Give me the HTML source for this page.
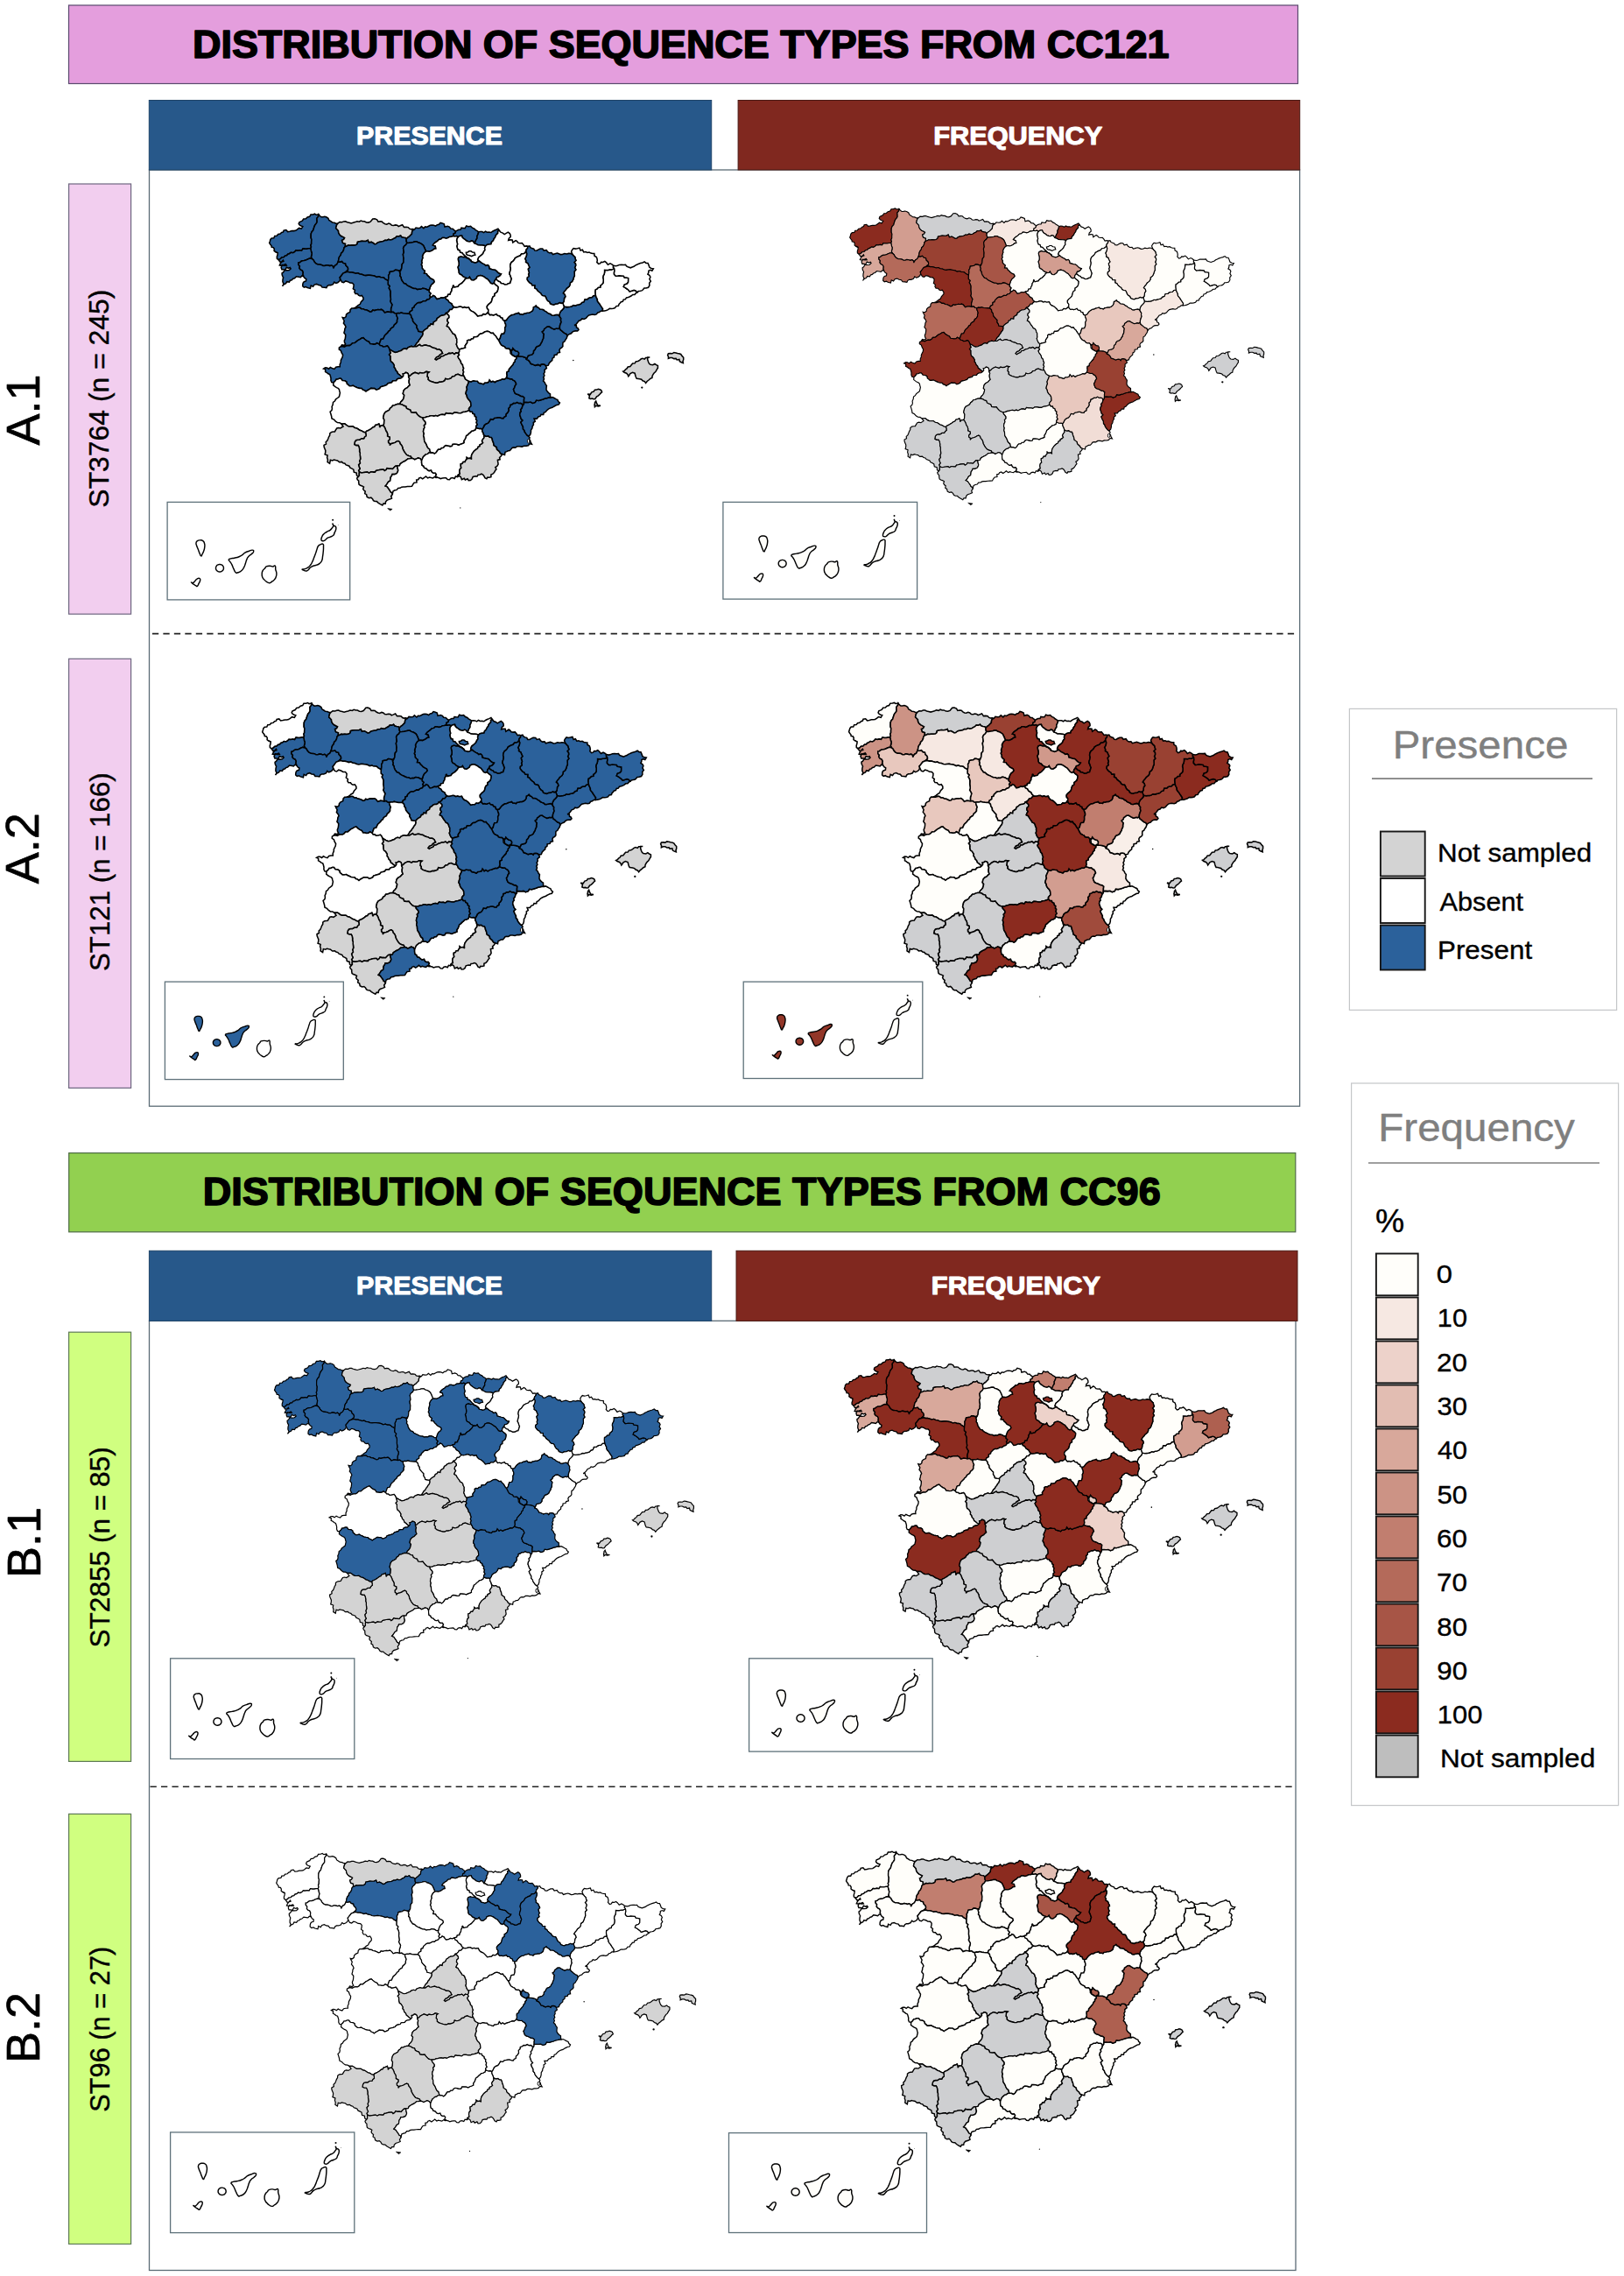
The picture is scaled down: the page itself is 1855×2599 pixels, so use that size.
<!DOCTYPE html>
<html lang="en"><head><meta charset="utf-8"><title>Distribution of sequence types</title>
<style>html,body{margin:0;padding:0;background:#fff}body{width:1855px;height:2599px;overflow:hidden}</style></head>
<body>
<svg width="1855" height="2599" viewBox="0 0 1855 2599" style="display:block">
<defs>
<path id="p-C" d="M318.2,296.6L316.4,295.3L316.3,293.1L317.0,291.0L317.2,288.7L314.8,287.7L313.1,286.4L313.3,284.3L312.3,282.6L310.3,282.3L310.0,280.6L308.9,279.3L307.7,277.5L308.4,275.4L308.9,273.4L310.3,271.9L312.8,271.8L313.8,269.5L316.2,269.3L317.7,267.5L320.0,267.1L321.7,265.5L323.5,264.9L324.1,263.1L326.8,262.6L328.6,264.6L331.1,264.2L333.5,263.6L335.6,263.6L337.6,263.3L339.4,262.1L341.6,260.4L344.3,261.1L345.8,258.6L344.0,258.0L342.4,257.2L341.2,255.6L341.9,253.7L343.6,252.9L345.3,252.2L346.7,250.1L349.3,249.8L351.2,248.0L353.7,247.3L355.0,245.0L357.6,244.9L359.5,244.2L361.1,245.3L364.0,244.9L363.6,247.2L361.9,249.2L362.1,251.7L362.1,253.8L361.1,255.4L359.8,256.9L359.1,258.6L358.4,260.7L357.8,262.9L356.2,264.6L355.3,266.8L355.2,269.1L355.2,271.5L355.9,273.7L355.7,276.0L355.7,278.3L354.9,280.1L355.5,282.0L354.7,283.8L352.5,283.8L350.4,284.3L348.3,284.3L346.1,283.9L344.6,286.2L342.4,285.7L340.3,286.2L338.0,285.9L336.5,287.7L334.6,288.7L332.3,288.3L330.5,289.7L328.8,290.2L327.5,291.8L325.6,292.1L324.0,293.8L321.7,294.1L320.2,295.7Z"/>
<path id="p-LU" d="M364.0,244.9L365.3,246.5L367.0,247.8L369.0,247.7L370.9,247.3L373.0,248.0L374.9,249.3L375.8,251.5L377.8,252.7L379.6,254.0L381.8,254.2L383.7,255.2L385.9,255.2L384.6,256.8L384.1,258.7L383.7,260.6L385.1,262.0L386.5,263.5L386.7,265.5L387.8,267.8L389.7,269.5L391.6,270.4L393.6,271.5L392.6,273.4L390.6,274.4L391.6,277.4L394.5,278.4L394.4,281.5L392.9,283.1L392.6,285.2L391.5,287.5L389.7,289.2L389.2,291.4L387.7,293.1L387.0,295.1L386.7,297.1L386.2,299.0L385.7,300.0L384.7,302.0L382.8,303.0L381.6,304.6L380.8,306.4L380.5,304.3L378.8,303.0L376.8,303.6L374.9,303.0L372.9,302.7L371.0,303.5L369.0,303.5L367.1,302.4L365.1,302.1L363.1,302.0L360.8,300.9L359.1,299.0L358.1,297.0L356.4,295.6L355.3,293.5L355.9,291.3L356.2,289.2L355.5,287.4L355.2,285.6L354.7,283.8L355.5,282.0L354.9,280.1L355.7,278.3L355.7,276.0L355.9,273.7L355.2,271.5L355.2,269.1L355.3,266.8L356.2,264.6L357.8,262.9L358.4,260.7L359.1,258.6L359.8,256.9L361.1,255.4L362.1,253.8L362.1,251.7L361.9,249.2L363.6,247.2Z"/>
<path id="p-PO" d="M318.2,296.6L320.2,295.7L321.7,294.1L324.0,293.8L325.6,292.1L327.5,291.8L328.8,290.2L330.5,289.7L332.3,288.3L334.6,288.7L336.5,287.7L338.0,285.9L340.3,286.2L342.4,285.7L344.6,286.2L346.1,283.9L348.3,284.3L350.4,284.3L352.5,283.8L354.7,283.8L355.2,285.6L355.5,287.4L356.2,289.2L355.9,291.3L355.3,293.5L356.4,295.6L353.8,295.1L351.5,296.0L349.3,297.1L347.5,297.6L345.5,297.7L343.8,298.5L342.6,299.7L340.9,300.0L340.9,302.3L342.4,304.0L342.0,306.2L343.3,307.9L345.3,308.9L346.3,310.9L346.0,313.3L346.8,315.6L344.9,315.0L343.3,316.7L341.4,316.3L338.5,315.8L336.5,317.8L334.7,318.3L333.3,319.7L331.5,320.2L330.4,322.1L327.7,321.7L326.6,323.7L324.2,324.8L322.5,326.8L324.0,324.4L322.9,321.7L323.0,319.2L323.6,316.8L322.8,315.3L322.2,313.8L322.1,312.0L323.6,310.9L325.1,308.5L327.9,308.8L330.3,308.5L332.1,306.8L331.3,305.5L329.5,306.3L327.3,305.3L325.9,308.1L323.9,307.7L321.9,307.7L321.1,305.4L322.3,302.5L324.9,303.2L327.2,303.0L326.4,301.8L324.1,302.6L321.8,303.5L319.3,303.0L320.3,300.8L321.7,298.9L323.9,298.2L323.4,297.1L321.9,298.7L319.7,299.0Z"/>
<path id="p-OU" d="M356.4,295.6L358.1,297.0L359.1,299.0L360.8,300.9L363.1,302.0L365.1,302.1L367.1,302.4L369.0,303.5L371.0,303.5L372.9,302.7L374.9,303.0L376.8,303.6L378.8,303.0L380.5,304.3L380.8,306.4L381.6,304.6L382.8,303.0L384.7,302.0L385.7,300.0L386.2,299.0L388.5,299.1L390.6,298.5L392.2,300.4L394.6,301.0L395.2,303.4L397.0,305.0L397.6,306.6L397.5,308.4L396.0,309.6L394.6,310.9L392.2,311.8L390.6,313.8L389.5,315.4L388.2,316.8L388.7,318.7L387.8,321.1L385.7,322.7L383.6,323.5L381.8,322.2L380.4,324.6L377.8,325.6L375.6,325.6L373.9,326.6L372.9,328.6L370.5,328.2L368.0,328.1L366.5,326.0L364.0,325.6L361.7,324.4L359.1,325.1L357.6,327.3L355.2,326.1L354.4,329.4L351.2,328.6L349.4,327.5L347.3,328.1L345.7,326.7L345.8,324.7L346.2,323.0L347.3,321.7L349.5,321.0L349.8,318.7L347.9,317.5L346.8,315.6L346.0,313.3L346.3,310.9L345.3,308.9L343.3,307.9L342.0,306.2L342.4,304.0L340.9,302.3L340.9,300.0L342.6,299.7L343.8,298.5L345.5,297.7L347.5,297.6L349.3,297.1L351.5,296.0L353.8,295.1Z"/>
<path id="p-O" d="M385.9,255.2L388.0,253.5L390.6,253.7L392.6,252.9L394.6,252.8L396.6,253.7L398.8,254.3L401.1,254.9L403.4,254.2L405.7,253.6L407.9,252.7L410.3,253.2L412.2,252.0L414.3,252.7L416.3,252.7L418.5,253.9L420.8,254.1L423.2,253.2L424.5,251.6L425.8,250.0L428.1,249.8L430.6,250.9L432.0,253.2L434.2,252.9L436.2,253.1L437.9,254.7L439.8,255.7L441.8,256.1L443.9,255.1L445.8,255.7L447.5,257.3L449.5,257.5L451.7,256.9L453.7,257.2L455.2,258.5L457.0,257.8L459.6,256.7L461.5,259.4L463.9,259.2L466.3,259.6L467.7,261.2L469.4,261.8L471.6,261.5L473.3,262.2L471.3,263.1L470.6,265.0L470.4,267.2L468.9,268.6L467.4,270.2L465.6,271.4L464.1,273.0L462.8,271.5L460.8,271.2L458.8,270.7L457.6,269.0L455.7,270.0L453.3,269.8L451.7,271.5L449.8,272.4L448.0,273.6L445.8,273.9L443.8,273.4L441.9,274.5L439.9,274.4L437.7,275.6L435.4,276.0L433.0,276.4L431.3,277.1L429.9,278.4L428.1,278.8L426.2,277.5L424.1,276.4L421.3,277.1L420.2,274.4L418.0,275.4L415.7,275.5L413.3,275.4L410.8,275.8L408.4,276.4L408.1,278.5L406.4,279.8L404.1,280.1L401.8,280.0L399.5,280.3L397.7,280.1L396.1,281.0L394.4,281.5L394.5,278.4L391.6,277.4L390.6,274.4L392.6,273.4L393.6,271.5L391.6,270.4L389.7,269.5L387.8,267.8L386.7,265.5L386.5,263.5L385.1,262.0L383.7,260.6L384.1,258.7L384.6,256.8Z"/>
<path id="p-LE" d="M394.4,281.5L396.1,281.0L397.7,280.1L399.5,280.3L401.8,280.0L404.1,280.1L406.4,279.8L408.1,278.5L408.4,276.4L410.8,275.8L413.3,275.4L415.7,275.5L418.0,275.4L420.2,274.4L421.3,277.1L424.1,276.4L426.2,277.5L428.1,278.8L429.9,278.4L431.3,277.1L433.0,276.4L435.4,276.0L437.7,275.6L439.9,274.4L441.9,274.5L443.8,273.4L445.8,273.9L448.0,273.6L449.8,272.4L451.7,271.5L453.3,269.8L455.7,270.0L457.6,269.0L458.8,270.7L460.8,271.2L462.8,271.5L464.1,273.0L464.2,275.3L464.9,277.4L463.6,279.6L461.6,281.2L460.6,283.4L461.0,285.8L461.3,288.2L460.4,290.4L460.7,292.7L461.1,295.0L460.9,297.3L460.9,299.7L459.3,301.6L459.0,304.0L458.8,306.4L457.8,308.6L455.7,309.1L453.7,308.4L451.5,308.2L449.8,309.6L447.8,309.9L445.3,310.4L444.8,312.8L443.7,314.7L443.9,316.7L443.7,318.7L443.3,320.7L441.7,319.6L439.9,318.7L438.6,317.2L436.9,316.8L435.0,316.8L432.8,315.8L430.3,316.4L428.1,315.3L426.1,314.8L424.2,314.5L422.2,314.2L420.2,314.3L417.8,314.6L415.5,314.3L413.3,313.3L411.0,313.0L408.8,311.8L406.4,312.3L404.2,311.5L401.9,310.9L399.5,310.9L397.0,310.2L394.6,310.9L396.0,309.6L397.5,308.4L397.6,306.6L397.0,305.0L395.2,303.4L394.6,301.0L392.2,300.4L390.6,298.5L388.5,299.1L386.2,299.0L386.7,297.1L387.0,295.1L387.7,293.1L389.2,291.4L389.7,289.2L391.5,287.5L392.6,285.2L392.9,283.1Z"/>
<path id="p-S" d="M473.3,262.2L475.0,260.1L477.5,260.5L479.7,260.2L481.4,258.6L483.9,260.7L485.6,258.9L487.7,259.2L489.6,258.2L491.4,257.3L493.4,257.1L495.5,257.3L497.6,258.2L499.4,256.7L501.4,256.3L503.1,254.3L505.2,254.9L507.3,255.8L508.0,259.1L511.2,258.2L513.3,259.1L514.8,261.0L517.1,261.2L518.8,262.8L520.6,264.1L520.0,266.2L518.1,267.1L517.6,269.6L515.7,270.3L513.5,270.4L511.7,271.5L509.6,272.2L507.5,271.6L505.3,271.5L503.7,273.1L501.4,273.5L499.8,275.2L497.8,276.5L496.0,277.9L494.5,279.9L497.2,280.9L497.9,283.8L495.9,284.2L494.3,285.6L492.5,286.5L490.5,287.3L488.5,287.0L486.4,287.1L485.6,284.7L484.6,282.4L483.4,280.0L481.2,278.4L479.6,277.6L477.7,277.1L476.3,276.0L474.1,275.9L472.0,276.5L469.9,276.9L467.4,277.3L464.9,277.4L464.2,275.3L464.1,273.0L465.6,271.4L467.4,270.2L468.9,268.6L470.4,267.2L470.6,265.0L471.3,263.1Z"/>
<path id="p-BI" d="M520.6,264.1L522.2,263.1L523.9,262.3L526.1,262.3L527.0,260.2L529.1,260.5L531.1,260.6L532.7,257.9L534.9,258.7L537.6,258.3L539.5,260.2L541.8,261.2L543.2,262.6L545.0,263.6L546.7,264.8L546.1,267.3L544.9,269.6L545.0,272.0L543.7,274.0L542.9,276.0L541.8,277.9L540.3,275.5L538.5,275.0L536.8,276.0L534.8,275.7L532.9,275.0L531.3,273.6L529.5,272.5L528.1,271.0L527.5,269.1L525.1,269.4L523.1,270.7L521.4,269.5L519.4,270.0L517.6,269.6L518.1,267.1L520.0,266.2Z"/>
<path id="p-SS" d="M546.7,264.8L548.7,264.5L550.7,264.6L552.6,265.6L554.5,264.2L556.5,265.2L558.5,265.1L560.9,265.5L562.6,264.2L564.4,263.2L566.7,262.3L568.9,261.2L570.3,263.2L568.6,264.1L568.7,266.3L567.4,267.6L566.2,269.1L565.7,271.0L564.4,272.5L563.4,274.8L561.5,276.5L560.9,278.8L558.5,278.9L556.3,279.4L554.6,280.9L552.7,280.3L550.7,280.0L548.7,279.9L546.0,279.8L543.7,278.4L541.8,277.9L542.9,276.0L543.7,274.0L545.0,272.0L544.9,269.6L546.1,267.3Z"/>
<path id="p-VI" d="M523.1,270.7L525.1,269.4L527.5,269.1L528.1,271.0L529.5,272.5L531.3,273.6L532.9,275.0L534.8,275.7L536.8,276.0L538.5,275.0L540.3,275.5L541.8,277.9L543.7,278.4L546.0,279.8L548.7,279.9L550.7,280.0L552.7,280.3L554.6,280.9L553.6,283.3L554.0,285.5L552.6,287.3L551.7,289.5L550.1,291.2L548.4,292.5L546.7,294.0L545.7,296.7L547.7,298.3L546.0,298.5L544.7,299.6L542.7,300.2L540.8,299.5L538.8,299.1L538.0,297.3L536.4,296.3L534.9,295.2L533.2,294.2L531.8,292.8L530.3,291.6L529.0,290.2L527.8,288.7L525.6,288.2L525.1,285.9L523.1,285.3L522.3,283.2L521.8,281.1L522.6,278.8L522.0,276.6L521.6,274.5L521.9,272.5Z"/>
<path id="p-NA" d="M570.3,263.2L571.9,265.2L574.3,266.1L576.2,267.6L578.2,266.4L580.3,265.2L582.2,266.6L583.1,268.5L583.2,270.5L581.3,272.1L580.7,274.5L582.9,273.9L585.1,274.0L585.8,277.0L589.1,274.7L590.7,275.7L592.0,277.4L594.1,277.8L596.3,277.6L597.9,279.4L599.1,281.3L601.2,280.9L602.9,281.4L602.6,283.5L601.1,285.2L600.7,287.3L599.6,288.8L597.9,289.8L595.6,290.0L594.1,292.0L592.0,292.7L590.0,293.7L588.3,294.8L587.4,296.6L586.1,298.1L584.1,299.6L583.1,301.6L582.7,304.0L583.3,306.4L583.0,308.7L582.2,310.9L582.0,313.0L583.0,314.7L583.5,316.6L584.3,318.3L583.5,320.8L582.7,323.3L580.8,323.7L579.2,324.7L576.6,325.0L574.3,323.7L572.3,323.5L571.2,321.8L569.4,321.3L567.9,320.0L566.4,318.8L567.4,316.4L569.6,315.9L571.3,314.4L572.3,312.9L570.1,312.3L568.4,310.9L567.0,309.4L565.5,308.3L563.4,308.0L561.3,307.4L559.0,306.8L558.5,304.0L557.1,302.7L554.8,303.3L553.3,301.9L551.6,301.1L549.5,299.9L547.7,298.3L545.7,296.7L546.7,294.0L548.4,292.5L550.1,291.2L551.7,289.5L552.6,287.3L554.0,285.5L553.6,283.3L554.6,280.9L556.3,279.4L558.5,278.9L560.9,278.8L561.5,276.5L563.4,274.8L564.4,272.5L565.7,271.0L566.2,269.1L567.4,267.6L568.7,266.3L568.6,264.1Z"/>
<path id="p-LO" d="M538.8,299.1L540.8,299.5L542.7,300.2L544.7,299.6L546.0,298.5L547.7,298.3L549.5,299.9L551.6,301.1L553.3,301.9L554.8,303.3L557.1,302.7L558.5,304.0L559.0,306.8L561.3,307.4L563.4,308.0L565.5,308.3L567.0,309.4L568.4,310.9L570.1,312.3L572.3,312.9L571.3,314.4L569.6,315.9L567.4,316.4L566.4,318.8L564.9,320.8L564.4,323.3L562.5,324.2L560.5,323.3L559.4,321.7L558.2,320.3L557.0,318.8L555.5,318.0L554.0,316.9L552.6,315.9L550.7,315.0L548.8,314.5L546.7,314.9L545.0,315.8L544.3,317.7L542.8,318.8L541.0,320.0L538.8,319.8L537.3,318.3L536.4,316.4L535.2,317.7L533.4,317.8L531.1,316.9L529.0,315.9L527.3,314.0L525.0,312.9L524.0,311.1L524.0,309.0L523.5,307.0L522.9,305.0L524.0,303.1L524.2,301.1L524.0,299.1L523.5,297.3L523.2,295.5L524.0,293.7L526.5,292.7L529.0,293.5L531.3,293.2L533.3,294.5L535.4,295.2L537.4,296.9Z"/>
<path id="p-BU" d="M486.4,287.1L488.5,287.0L490.5,287.3L492.5,286.5L494.3,285.6L495.9,284.2L497.9,283.8L497.2,280.9L494.5,279.9L496.0,277.9L497.8,276.5L499.8,275.2L501.4,273.5L503.7,273.1L505.3,271.5L507.5,271.6L509.6,272.2L511.7,271.5L513.5,270.4L515.7,270.3L517.6,269.6L519.4,270.0L521.4,269.5L523.1,270.7L521.9,272.5L521.6,274.5L522.0,276.6L522.6,278.8L521.8,281.1L522.3,283.2L523.1,285.3L525.1,285.9L525.6,288.2L527.8,288.7L529.0,290.2L530.3,291.6L531.8,292.8L533.2,294.2L534.9,295.2L536.4,296.3L538.0,297.3L538.8,299.1L537.4,296.9L535.4,295.2L533.3,294.5L531.3,293.2L529.0,293.5L526.5,292.7L524.0,293.7L523.2,295.5L523.5,297.3L524.0,299.1L524.2,301.1L524.0,303.1L522.9,305.0L523.5,307.0L524.0,309.0L524.0,311.1L525.0,312.9L527.3,314.0L529.0,315.9L531.1,316.9L533.4,317.8L531.4,318.6L530.4,320.4L529.0,321.8L527.6,323.3L525.8,324.3L524.2,325.5L523.1,327.2L521.1,327.6L519.1,328.2L517.6,325.7L517.4,328.0L516.1,329.9L515.9,332.2L514.7,334.1L514.2,336.1L511.7,336.5L511.2,338.5L508.5,339.4L506.3,340.3L504.0,339.9L501.7,341.1L499.1,341.6L497.8,340.0L496.6,338.3L494.7,337.4L493.5,338.9L491.7,339.4L490.7,337.4L492.0,335.1L490.1,333.3L490.3,331.1L491.0,328.7L491.8,326.6L493.0,324.7L494.7,323.5L496.0,321.8L495.4,319.8L493.5,318.8L491.4,317.7L489.9,315.9L488.1,314.4L487.3,312.6L484.4,312.2L485.2,309.3L483.6,308.0L482.2,306.3L482.2,304.0L481.2,302.1L482.0,300.2L481.6,298.1L482.2,296.2L482.8,294.4L482.5,292.5L483.2,290.7L484.5,288.6Z"/>
<path id="p-P" d="M464.9,277.4L467.4,277.3L469.9,276.9L472.0,276.5L474.1,275.9L476.3,276.0L477.7,277.1L479.6,277.6L481.2,278.4L483.4,280.0L484.6,282.4L485.6,284.7L486.4,287.1L484.5,288.6L483.2,290.7L482.5,292.5L482.8,294.4L482.2,296.2L481.6,298.1L482.0,300.2L481.2,302.1L482.2,304.0L482.2,306.3L483.6,308.0L485.2,309.3L484.4,312.2L487.3,312.6L488.1,314.4L489.9,315.9L491.4,317.7L493.5,318.8L495.4,319.8L496.0,321.8L494.7,323.5L493.0,324.7L491.8,326.6L491.0,328.7L490.3,331.1L488.3,331.2L486.5,330.0L484.6,329.4L482.7,329.2L480.8,330.3L478.7,330.2L476.7,330.6L474.9,329.6L472.7,329.5L470.8,328.7L468.9,327.7L466.8,326.8L464.9,325.7L463.6,324.2L461.4,323.6L460.2,321.9L459.0,320.3L458.3,318.5L458.0,316.6L456.7,315.0L457.1,312.9L456.4,310.6L457.8,308.6L458.8,306.4L459.0,304.0L459.3,301.6L460.9,299.7L460.9,297.3L461.1,295.0L460.7,292.7L460.4,290.4L461.3,288.2L461.0,285.8L460.6,283.4L461.6,281.2L463.6,279.6Z"/>
<path id="p-VA" d="M443.3,320.7L443.7,318.7L443.9,316.7L443.7,314.7L444.8,312.8L445.3,310.4L447.8,309.9L449.8,309.6L451.5,308.2L453.7,308.4L455.7,309.1L457.8,308.6L456.4,310.6L457.1,312.9L456.7,315.0L458.0,316.6L458.3,318.5L459.0,320.3L460.2,321.9L461.4,323.6L463.6,324.2L464.9,325.7L466.8,326.8L468.9,327.7L470.8,328.7L472.7,329.5L474.9,329.6L476.7,330.6L478.7,330.2L480.8,330.3L482.7,329.2L484.6,329.4L486.5,330.0L488.3,331.2L490.3,331.1L490.1,333.3L492.0,335.1L490.7,337.4L491.7,339.4L490.3,341.5L487.8,342.3L486.1,343.8L483.7,343.7L481.9,344.8L480.2,345.6L478.1,345.5L476.4,346.3L475.0,347.7L473.6,349.0L473.0,351.0L471.0,351.7L470.9,354.4L468.4,355.8L467.6,358.1L465.4,358.2L463.2,358.1L460.6,357.8L458.2,357.1L456.5,357.7L454.6,357.5L452.8,358.1L450.8,357.8L449.1,356.3L446.9,356.8L446.5,354.4L446.6,352.0L447.4,349.7L447.8,347.7L446.7,345.8L445.7,343.9L446.4,341.8L446.1,339.5L445.8,337.2L445.9,334.9L445.9,332.8L445.3,330.9L444.1,329.0L445.1,326.7L443.2,324.9L443.2,322.8Z"/>
<path id="p-ZA" d="M394.6,310.9L397.0,310.2L399.5,310.9L401.9,310.9L404.2,311.5L406.4,312.3L408.8,311.8L411.0,313.0L413.3,313.3L415.5,314.3L417.8,314.6L420.2,314.3L422.2,314.2L424.2,314.5L426.1,314.8L428.1,315.3L430.3,316.4L432.8,315.8L435.0,316.8L436.9,316.8L438.6,317.2L439.9,318.7L441.7,319.6L443.3,320.7L443.2,322.8L443.2,324.9L445.1,326.7L444.1,329.0L445.3,330.9L445.9,332.8L445.9,334.9L445.8,337.2L446.1,339.5L446.4,341.8L445.7,343.9L446.7,345.8L447.8,347.7L447.4,349.7L446.6,352.0L446.5,354.4L446.9,356.8L444.7,356.2L442.5,356.1L439.5,357.1L437.5,354.6L435.7,353.4L433.6,353.8L431.6,353.6L429.7,354.0L427.7,354.6L425.7,354.1L424.6,355.7L422.8,356.1L420.8,355.0L418.8,354.1L416.7,353.8L414.9,352.7L412.8,352.7L411.0,351.3L409.0,351.2L406.6,352.0L404.0,351.9L405.9,351.1L407.5,350.0L409.0,348.7L411.3,347.3L412.4,344.8L413.7,343.4L415.0,342.0L414.9,339.9L413.3,337.5L411.2,338.0L409.6,337.2L408.4,335.5L406.1,335.4L404.9,333.5L405.4,331.4L403.3,329.7L403.9,327.6L404.1,325.1L402.5,323.2L399.8,323.1L397.5,321.7L394.8,320.9L392.6,322.7L390.5,322.1L389.6,320.5L388.7,318.7L388.2,316.8L389.5,315.4L390.6,313.8L392.2,311.8Z"/>
<path id="p-SA" d="M404.0,351.9L406.6,352.0L409.0,351.2L411.0,351.3L412.8,352.7L414.9,352.7L416.7,353.8L418.8,354.1L420.8,355.0L422.8,356.1L424.6,355.7L425.7,354.1L427.7,354.6L429.7,354.0L431.6,353.6L433.6,353.8L435.7,353.4L437.5,354.6L439.5,357.1L442.5,356.1L444.7,356.2L446.9,356.8L449.1,356.3L450.8,357.8L452.8,358.1L452.9,360.0L453.6,361.7L454.3,363.5L453.6,365.4L453.6,367.7L452.3,369.4L450.4,371.0L449.4,373.3L447.6,374.3L446.2,375.4L445.4,377.3L443.8,378.3L442.8,379.9L441.5,381.2L439.6,382.9L438.5,385.2L437.7,387.0L435.4,387.3L434.6,389.1L433.9,391.1L433.1,393.1L430.6,391.6L428.9,392.9L426.7,393.1L424.7,392.8L422.8,392.6L421.3,390.2L418.8,389.1L416.7,387.5L414.9,385.7L412.8,386.3L410.9,387.6L408.8,388.6L407.0,390.1L405.2,391.6L402.6,391.7L401.1,393.5L399.3,394.6L397.1,394.5L395.2,395.0L393.3,396.1L391.2,395.4L389.3,395.8L390.5,393.8L393.0,394.3L394.7,393.1L393.6,391.2L393.3,389.2L394.2,387.1L394.6,384.7L394.7,382.2L392.9,380.0L393.7,377.3L393.9,375.3L395.0,373.4L394.2,371.4L392.4,369.2L393.2,366.5L392.1,364.5L391.2,362.5L393.4,363.0L395.2,361.5L395.5,359.2L397.1,357.6L399.7,356.4L400.1,353.6L401.7,351.9Z"/>
<path id="p-AV" d="M452.8,358.1L454.6,357.5L456.5,357.7L458.2,357.1L460.6,357.8L463.2,358.1L465.4,358.2L467.6,358.1L469.5,359.9L470.0,362.5L471.4,364.3L471.6,366.7L473.0,368.4L474.5,370.1L476.1,371.8L476.0,374.3L477.3,376.1L477.9,378.3L480.4,378.7L482.9,379.0L483.1,381.3L482.4,383.4L480.9,385.2L480.0,386.9L478.7,388.3L477.9,390.1L476.1,391.7L474.9,393.8L473.5,395.8L471.7,396.0L469.9,395.4L468.1,396.0L466.1,396.8L464.6,398.6L462.2,398.0L460.1,398.8L458.4,400.2L456.3,400.9L453.9,402.0L451.3,402.4L449.3,401.5L447.4,400.4L444.9,399.0L444.0,396.8L442.5,395.0L440.0,395.7L437.5,396.0L436.2,394.8L434.2,394.6L433.1,393.1L433.9,391.1L434.6,389.1L435.4,387.3L437.7,387.0L438.5,385.2L439.6,382.9L441.5,381.2L442.8,379.9L443.8,378.3L445.4,377.3L446.2,375.4L447.6,374.3L449.4,373.3L450.4,371.0L452.3,369.4L453.6,367.7L453.6,365.4L454.3,363.5L453.6,361.7L452.9,360.0Z"/>
<path id="p-SG" d="M467.6,358.1L468.4,355.8L470.9,354.4L471.0,351.7L473.0,351.0L473.6,349.0L475.0,347.7L476.4,346.3L478.1,345.5L480.2,345.6L481.9,344.8L483.7,343.7L486.1,343.8L487.8,342.3L490.3,341.5L491.7,339.4L493.5,338.9L494.7,337.4L496.6,338.3L497.8,340.0L499.1,341.6L501.7,341.1L504.0,339.9L506.3,340.3L508.5,339.4L509.5,341.5L511.8,342.7L512.9,344.8L514.5,345.8L516.1,346.8L516.8,348.7L518.8,350.7L517.3,351.8L516.0,353.4L513.9,353.6L512.8,355.4L511.4,356.8L509.5,357.6L508.2,359.4L506.4,360.1L504.3,360.3L502.5,361.1L501.1,362.5L499.3,363.5L498.6,365.8L496.9,366.8L495.2,367.9L494.8,370.5L492.1,369.9L491.1,371.8L489.3,372.4L488.3,374.7L486.2,375.8L484.4,377.2L482.9,379.0L480.4,378.7L477.9,378.3L477.3,376.1L476.0,374.3L476.1,371.8L474.5,370.1L473.0,368.4L471.6,366.7L471.4,364.3L470.0,362.5L469.5,359.9Z"/>
<path id="p-SO" d="M508.5,339.4L511.2,338.5L511.7,336.5L514.2,336.1L514.7,334.1L515.9,332.2L516.1,329.9L517.4,328.0L517.6,325.7L519.1,328.2L521.1,327.6L523.1,327.2L524.2,325.5L525.8,324.3L527.6,323.3L529.0,321.8L530.4,320.4L531.4,318.6L533.4,317.8L535.2,317.7L536.4,316.4L537.3,318.3L538.8,319.8L541.0,320.0L542.8,318.8L544.3,317.7L545.0,315.8L546.7,314.9L548.8,314.5L550.7,315.0L552.6,315.9L554.0,316.9L555.5,318.0L557.0,318.8L558.2,320.3L559.4,321.7L560.5,323.3L562.5,324.2L564.4,323.3L566.2,325.1L567.9,326.3L569.2,327.8L569.0,330.1L568.1,333.0L566.6,334.3L565.0,335.4L565.0,337.9L563.2,338.9L562.3,340.8L561.9,342.8L561.2,344.8L559.5,346.4L557.7,347.9L556.3,349.7L556.4,351.9L557.9,353.8L557.7,356.1L556.3,357.9L554.3,359.1L552.1,358.7L550.4,360.4L548.4,360.5L545.6,361.1L544.1,359.3L542.5,357.6L540.6,356.1L538.3,355.2L536.6,353.6L535.4,351.0L532.7,351.5L530.6,350.7L528.6,351.4L526.7,350.2L524.7,350.2L522.8,350.7L520.8,351.1L518.8,350.7L516.8,348.7L516.1,346.8L514.5,345.8L512.9,344.8L511.8,342.7L509.5,341.5Z"/>
<path id="p-M" d="M482.9,379.0L484.4,377.2L486.2,375.8L488.3,374.7L489.3,372.4L491.1,371.8L492.1,369.9L494.8,370.5L495.2,367.9L496.9,366.8L498.6,365.8L499.3,363.5L501.1,362.5L502.5,361.1L504.3,360.3L506.4,360.1L508.2,359.4L509.5,357.6L511.4,358.8L512.9,360.5L513.0,362.6L511.2,364.3L510.9,366.3L512.3,368.6L511.1,370.4L510.4,372.4L512.6,373.5L513.7,375.5L515.0,377.4L516.4,379.3L517.3,380.9L519.2,381.7L520.3,383.2L520.8,385.2L521.8,387.1L521.7,389.1L521.9,391.0L521.3,393.1L522.1,395.2L523.0,397.3L524.7,399.0L524.7,401.3L523.7,403.4L520.8,402.9L519.0,404.5L516.8,402.8L514.9,403.6L512.8,403.4L510.9,404.5L509.0,404.9L507.4,405.8L505.9,406.8L504.0,406.8L502.7,408.9L500.3,409.8L498.3,411.0L496.9,410.0L498.5,407.8L501.1,406.8L502.2,405.2L503.8,404.2L505.5,403.4L504.7,402.0L504.0,400.4L501.8,399.0L499.1,399.0L497.3,397.8L495.2,397.2L493.2,396.5L491.1,395.2L488.6,394.8L486.3,394.0L484.3,394.3L482.4,395.0L480.6,394.8L479.4,393.5L477.5,394.5L475.7,395.8L473.5,395.8L474.9,393.8L476.1,391.7L477.9,390.1L478.7,388.3L480.0,386.9L480.9,385.2L482.4,383.4L483.1,381.3Z"/>
<path id="p-GU" d="M518.8,350.7L520.8,351.1L522.8,350.7L524.7,350.2L526.7,350.2L528.6,351.4L530.6,350.7L532.7,351.5L535.4,351.0L536.6,353.6L538.3,355.2L540.6,356.1L542.5,357.6L544.1,359.3L545.6,361.1L548.4,360.5L550.4,360.4L552.1,358.7L554.3,359.1L556.3,357.9L557.7,356.1L558.2,358.1L559.7,359.6L561.6,359.3L563.5,359.9L565.3,359.3L567.1,358.6L568.4,360.3L570.8,360.7L572.0,362.5L574.0,363.1L574.5,365.3L576.3,366.1L576.7,368.2L577.6,370.3L577.7,372.5L576.7,374.4L576.8,376.4L576.7,378.4L575.7,381.1L572.8,381.4L571.8,384.3L571.2,386.7L569.4,388.3L568.1,386.8L567.1,385.2L566.0,383.4L564.3,382.0L563.2,380.2L560.9,380.4L559.2,379.1L557.2,378.3L555.2,378.4L553.3,379.3L551.8,380.3L550.2,381.1L548.4,381.2L546.9,382.6L545.6,384.2L543.4,384.7L541.4,384.7L540.5,386.9L538.5,387.1L537.2,388.5L535.2,388.2L533.6,389.1L533.8,391.2L532.5,393.0L531.3,394.8L531.6,397.0L529.3,397.7L527.0,398.2L524.7,399.0L523.0,397.3L522.1,395.2L521.3,393.1L521.9,391.0L521.7,389.1L521.8,387.1L520.8,385.2L520.3,383.2L519.2,381.7L517.3,380.9L516.4,379.3L515.0,377.4L513.7,375.5L512.6,373.5L510.4,372.4L511.1,370.4L512.3,368.6L510.9,366.3L511.2,364.3L513.0,362.6L512.9,360.5L511.4,358.8L509.5,357.6L511.4,356.8L512.8,355.4L513.9,353.6L516.0,353.4L517.3,351.8Z"/>
<path id="p-TO" d="M444.9,399.0L447.4,400.4L449.3,401.5L451.3,402.4L453.9,402.0L456.3,400.9L458.4,400.2L460.1,398.8L462.2,398.0L464.6,398.6L466.1,396.8L468.1,396.0L469.9,395.4L471.7,396.0L473.5,395.8L475.7,395.8L477.5,394.5L479.4,393.5L480.6,394.8L482.4,395.0L484.3,394.3L486.3,394.0L488.6,394.8L491.1,395.2L493.2,396.5L495.2,397.2L497.3,397.8L499.1,399.0L501.8,399.0L504.0,400.4L504.7,402.0L505.5,403.4L503.8,404.2L502.2,405.2L501.1,406.8L498.5,407.8L496.9,410.0L498.3,411.0L500.3,409.8L502.7,408.9L504.0,406.8L505.9,406.8L507.4,405.8L509.0,404.9L510.9,404.5L512.8,403.4L514.9,403.6L516.8,402.8L519.0,404.5L520.8,402.9L523.7,403.4L524.6,405.2L523.1,407.0L523.7,408.8L525.1,410.6L526.3,412.5L526.7,414.7L528.4,416.4L528.8,418.6L529.7,420.6L528.8,422.7L529.7,424.8L528.8,426.9L529.7,429.0L527.6,429.0L525.6,428.4L523.2,427.3L520.7,427.9L519.1,429.5L516.7,429.9L515.2,431.9L512.8,432.8L511.0,433.0L508.8,432.4L507.9,434.8L505.9,435.7L503.7,436.3L501.7,436.2L499.8,437.2L497.8,437.2L495.3,436.5L492.9,435.8L490.7,434.9L488.9,433.3L489.2,431.3L487.9,429.9L488.2,428.0L488.3,426.2L489.9,424.9L486.9,424.4L484.6,425.7L482.0,425.9L479.8,425.5L478.1,426.9L476.2,426.0L474.1,425.4L472.1,426.3L470.2,427.4L468.6,429.0L466.7,430.3L466.6,428.6L466.3,426.9L465.0,425.8L463.3,425.4L462.0,426.5L460.3,426.9L460.8,429.0L459.6,430.6L457.7,429.4L456.1,427.8L454.3,426.6L453.6,424.4L451.9,422.8L451.3,420.6L450.0,419.3L450.3,417.3L449.4,415.7L448.3,414.0L446.5,412.8L445.9,410.8L445.8,408.7L445.8,406.6L444.4,404.9L446.1,403.0L445.4,401.0Z"/>
<path id="p-CC" d="M389.3,395.8L391.2,395.4L393.3,396.1L395.2,395.0L397.1,394.5L399.3,394.6L401.1,393.5L402.6,391.7L405.2,391.6L407.0,390.1L408.8,388.6L410.9,387.6L412.8,386.3L414.9,385.7L416.7,387.5L418.8,389.1L421.3,390.2L422.8,392.6L424.7,392.8L426.7,393.1L428.9,392.9L430.6,391.6L433.1,393.1L434.2,394.6L436.2,394.8L437.5,396.0L440.0,395.7L442.5,395.0L444.0,396.8L444.9,399.0L445.4,401.0L446.1,403.0L444.4,404.9L445.8,406.6L445.8,408.7L445.9,410.8L446.5,412.8L448.3,414.0L449.4,415.7L450.3,417.3L450.0,419.3L451.3,420.6L451.9,422.8L453.6,424.4L454.3,426.6L456.1,427.8L457.7,429.4L459.6,430.6L457.7,432.0L455.4,432.3L453.7,433.0L452.5,434.7L450.5,434.8L448.6,435.0L447.4,436.8L445.6,437.2L443.2,437.8L441.6,439.7L439.2,440.5L436.7,441.2L434.7,441.8L433.7,443.6L431.8,444.5L429.8,445.2L427.8,443.6L425.8,443.6L423.7,443.4L421.9,444.6L419.8,445.7L418.0,447.1L416.4,445.8L414.4,445.2L413.1,443.6L411.0,443.4L409.0,443.1L407.1,442.2L405.2,441.4L403.4,440.3L401.2,440.7L399.2,440.7L397.8,439.4L396.3,438.2L395.8,436.0L393.8,434.8L391.1,434.5L389.4,432.3L387.5,432.3L385.8,433.1L384.0,433.3L382.7,435.3L380.9,436.9L378.8,436.5L377.9,434.4L378.0,431.9L377.4,429.5L376.7,427.6L374.9,426.8L373.5,425.6L371.6,424.6L371.7,421.9L369.6,421.1L371.5,419.9L373.5,420.0L375.5,421.2L377.4,419.5L379.4,420.6L381.9,421.4L383.7,419.2L386.0,418.7L388.3,418.7L388.2,416.1L389.3,413.7L389.3,411.6L390.2,409.7L391.2,407.8L391.6,405.2L390.2,402.9L389.4,400.4L387.3,399.0L387.4,396.9Z"/>
<path id="p-BA" d="M380.9,436.9L382.7,435.3L384.0,433.3L385.8,433.1L387.5,432.3L389.4,432.3L391.1,434.5L393.8,434.8L395.8,436.0L396.3,438.2L397.8,439.4L399.2,440.7L401.2,440.7L403.4,440.3L405.2,441.4L407.1,442.2L409.0,443.1L411.0,443.4L413.1,443.6L414.4,445.2L416.4,445.8L418.0,447.1L419.8,445.7L421.9,444.6L423.7,443.4L425.8,443.6L427.8,443.6L429.8,445.2L431.8,444.5L433.7,443.6L434.7,441.8L436.7,441.2L439.2,440.5L441.6,439.7L443.2,437.8L445.6,437.2L447.4,436.8L448.6,435.0L450.5,434.8L452.5,434.7L453.7,433.0L455.4,432.3L457.7,432.0L459.6,430.6L460.8,429.0L460.3,426.9L462.0,426.5L463.3,425.4L465.0,425.8L466.3,426.9L466.6,428.6L466.7,430.3L467.7,432.5L467.2,434.8L467.3,437.3L468.2,439.7L466.6,441.1L465.3,442.7L463.0,443.8L461.3,445.6L460.7,447.6L460.3,449.6L461.7,451.3L461.3,453.5L460.7,455.6L459.4,457.4L457.6,459.1L456.9,461.4L454.6,461.3L452.5,461.9L450.8,462.8L448.7,463.0L447.5,464.8L445.7,466.0L444.6,468.1L442.6,469.3L440.2,470.5L438.7,472.7L438.2,474.9L437.7,477.1L438.9,479.5L438.7,482.1L438.6,484.0L437.7,485.8L435.2,485.9L433.7,488.0L433.5,485.9L432.8,484.0L430.9,485.0L428.8,485.5L427.8,487.3L425.9,488.0L424.0,489.6L421.9,490.9L420.3,491.7L418.6,492.4L417.5,493.9L415.1,493.3L413.1,491.9L410.9,491.3L409.1,490.0L407.3,488.9L405.2,488.5L403.0,486.9L400.2,487.0L398.4,486.9L396.7,486.2L395.3,485.0L393.7,483.9L391.8,484.0L389.9,484.0L387.9,482.7L385.5,482.6L383.3,481.1L381.5,479.1L379.0,477.9L378.6,475.2L377.9,472.7L377.1,470.2L378.9,468.6L379.4,466.6L379.1,464.3L380.2,462.0L380.5,459.4L382.4,458.0L383.6,455.9L385.5,454.5L387.4,453.0L387.9,450.8L388.4,448.6L387.8,446.6L387.4,444.6L386.2,443.3L384.5,442.6L383.0,441.7L380.7,439.9Z"/>
<path id="p-CR" d="M466.7,430.3L468.6,429.0L470.2,427.4L472.1,426.3L474.1,425.4L476.2,426.0L478.1,426.9L479.8,425.5L482.0,425.9L484.6,425.7L486.9,424.4L489.9,424.9L488.3,426.2L488.2,428.0L487.9,429.9L489.2,431.3L488.9,433.3L490.7,434.9L492.9,435.8L495.3,436.5L497.8,437.2L499.8,437.2L501.7,436.2L503.7,436.3L505.9,435.7L507.9,434.8L508.8,432.4L511.0,433.0L512.8,432.8L515.2,431.9L516.7,429.9L519.1,429.5L520.7,427.9L523.2,427.3L525.6,428.4L527.6,429.0L529.7,429.0L530.8,430.8L531.5,432.8L533.4,434.2L535.5,435.3L535.0,437.6L534.0,439.7L533.0,442.1L533.5,444.6L532.5,447.0L532.0,449.6L533.2,451.4L533.5,453.5L534.7,455.6L536.5,457.4L537.6,459.3L537.9,461.4L538.0,463.7L536.5,465.3L535.5,466.8L536.0,468.5L533.8,469.5L531.5,470.2L528.9,470.6L526.6,471.7L524.1,471.7L521.7,471.2L519.0,471.1L516.7,472.7L514.3,472.1L511.8,472.2L509.6,471.7L507.9,473.8L505.7,473.2L503.5,473.4L501.6,474.3L499.8,475.2L497.8,474.5L495.8,475.1L493.8,474.7L491.8,474.8L489.9,475.4L487.9,475.7L485.6,476.7L483.0,476.9L481.2,476.5L479.5,475.9L478.1,474.7L476.5,472.9L475.0,470.9L472.2,471.2L469.7,470.7L468.6,468.1L466.3,467.3L464.4,466.2L463.6,463.9L461.3,463.3L459.3,461.9L456.9,461.4L457.6,459.1L459.4,457.4L460.7,455.6L461.3,453.5L461.7,451.3L460.3,449.6L460.7,447.6L461.3,445.6L463.0,443.8L465.3,442.7L466.6,441.1L468.2,439.7L467.3,437.3L467.2,434.8L467.7,432.5Z"/>
<path id="p-CO" d="M437.7,485.8L438.6,484.0L438.7,482.1L438.9,479.5L437.7,477.1L438.2,474.9L438.7,472.7L440.2,470.5L442.6,469.3L444.6,468.1L445.7,466.0L447.5,464.8L448.7,463.0L450.8,462.8L452.5,461.9L454.6,461.3L456.9,461.4L459.3,461.9L461.3,463.3L463.6,463.9L464.4,466.2L466.3,467.3L468.6,468.1L469.7,470.7L472.2,471.2L475.0,470.9L476.5,472.9L478.1,474.7L479.5,475.9L481.2,476.5L483.0,476.9L483.4,479.0L484.8,480.5L486.0,482.1L486.1,484.1L484.4,485.9L485.0,488.0L483.9,490.3L483.5,492.9L484.3,495.1L483.7,497.6L484.5,499.8L484.6,501.9L484.8,503.9L486.0,505.7L487.1,507.6L487.8,509.7L488.9,511.6L490.7,513.0L491.2,515.0L492.0,516.9L490.0,517.0L488.5,518.4L486.5,518.8L485.1,520.1L483.6,521.4L482.5,523.7L481.6,526.1L480.2,523.8L477.7,522.9L475.7,523.9L473.7,524.8L472.1,523.7L470.3,523.2L469.1,521.1L466.8,520.4L464.5,519.4L462.9,517.4L461.8,515.9L460.9,514.2L460.0,512.5L459.6,510.2L458.5,508.1L457.0,506.6L456.5,504.6L454.9,503.5L453.1,504.1L451.2,505.4L449.1,506.1L446.7,506.7L445.2,508.6L445.3,506.7L443.7,505.6L443.5,503.3L445.2,501.7L445.2,499.3L442.6,498.1L442.7,495.8L442.1,493.7L440.8,491.9L440.2,489.9L439.2,487.7Z"/>
<path id="p-SE" d="M417.5,493.9L418.6,492.4L420.3,491.7L421.9,490.9L424.0,489.6L425.9,488.0L427.8,487.3L428.8,485.5L430.9,485.0L432.8,484.0L433.5,485.9L433.7,488.0L435.2,485.9L437.7,485.8L439.2,487.7L440.2,489.9L440.8,491.9L442.1,493.7L442.7,495.8L442.6,498.1L445.2,499.3L445.2,501.7L443.5,503.3L443.7,505.6L445.3,506.7L445.2,508.6L446.7,506.7L449.1,506.1L451.2,505.4L453.1,504.1L454.9,503.5L456.5,504.6L457.0,506.6L458.5,508.1L459.6,510.2L460.0,512.5L460.9,514.2L461.8,515.9L462.9,517.4L464.5,519.4L466.8,520.4L469.1,521.1L470.3,523.2L467.8,523.8L465.8,523.9L464.4,525.2L462.9,526.3L460.9,527.2L459.0,528.3L457.3,529.5L456.3,531.8L453.8,532.0L451.7,532.2L450.1,533.7L448.5,535.5L446.2,535.2L444.1,535.3L442.2,534.7L441.1,536.5L439.3,537.6L438.1,536.2L436.3,536.2L433.8,536.4L431.4,537.1L429.6,537.4L428.4,539.1L426.5,539.1L423.8,538.8L421.5,540.1L419.6,539.0L417.6,539.3L415.6,539.6L413.0,540.0L410.5,539.1L409.6,537.2L411.2,535.1L410.2,533.2L409.6,530.8L411.4,528.7L410.7,526.3L411.7,524.1L411.5,521.7L411.2,519.4L411.3,517.4L410.6,515.5L410.7,513.5L410.3,510.9L409.2,508.6L406.9,508.6L404.8,507.6L405.3,504.6L406.6,502.7L408.5,502.2L410.7,502.2L412.9,500.7L415.6,500.7L416.5,498.9L418.1,497.7L418.0,495.8Z"/>
<path id="p-H" d="M389.9,484.0L391.8,484.0L393.7,483.9L395.3,485.0L396.7,486.2L398.4,486.9L400.2,487.0L403.0,486.9L405.2,488.5L407.3,488.9L409.1,490.0L410.9,491.3L413.1,491.9L415.1,493.3L417.5,493.9L418.0,495.8L418.1,497.7L416.5,498.9L415.6,500.7L412.9,500.7L410.7,502.2L408.5,502.2L406.6,502.7L405.3,504.6L404.8,507.6L406.9,508.6L409.2,508.6L410.3,510.9L410.7,513.5L410.6,515.5L411.3,517.4L411.2,519.4L411.5,521.7L411.7,524.1L410.7,526.3L411.4,528.7L409.6,530.8L410.2,533.2L411.2,535.1L409.6,537.2L410.5,539.1L410.3,541.0L410.4,542.9L409.2,544.5L407.4,542.7L407.2,540.1L404.3,539.2L403.8,536.2L402.0,535.1L399.9,534.2L398.9,532.2L397.1,531.5L395.2,530.9L393.9,529.3L391.9,528.8L390.4,527.4L387.6,527.7L385.5,525.9L383.5,525.5L381.5,525.0L379.6,525.9L377.4,525.3L376.6,529.2L374.1,527.6L374.4,525.0L373.6,522.5L374.1,520.1L371.1,518.9L371.7,516.6L371.8,514.4L371.0,512.5L370.2,510.6L370.0,508.4L372.5,507.0L372.2,504.7L373.9,503.1L374.8,501.0L375.6,498.8L376.7,497.1L376.8,494.8L378.6,493.4L380.5,493.1L382.4,492.9L383.5,490.9L384.8,489.0L386.7,488.5L388.9,489.0L392.0,487.0Z"/>
<path id="p-CA" d="M410.5,539.1L413.0,540.0L415.6,539.6L417.6,539.3L419.6,539.0L421.5,540.1L423.8,538.8L426.5,539.1L428.4,539.1L429.6,537.4L431.4,537.1L433.8,536.4L436.3,536.2L438.1,536.2L439.3,537.6L441.1,536.5L442.2,534.7L444.1,535.3L446.2,535.2L448.5,535.5L450.1,533.7L451.7,532.2L453.8,532.0L454.1,534.6L454.8,537.1L454.2,539.0L453.1,540.6L450.7,541.6L448.1,541.6L447.4,543.4L446.2,545.0L446.0,547.0L445.7,549.0L443.5,550.3L442.2,552.4L441.3,553.7L440.2,554.9L442.4,555.9L443.7,557.8L445.1,559.7L446.2,561.8L447.9,562.7L448.3,564.5L446.7,566.7L447.5,569.1L445.2,570.1L442.2,571.1L440.6,572.8L440.2,575.1L438.0,575.1L436.8,577.0L434.3,575.6L432.2,574.3L430.4,572.6L428.2,572.5L426.5,571.6L425.5,569.7L423.8,568.2L421.5,568.7L419.2,567.4L418.6,564.7L416.7,563.6L417.2,561.1L415.6,559.8L414.7,558.3L415.5,556.0L413.6,554.9L411.6,554.3L410.1,553.2L409.7,550.9L409.7,549.0L408.3,547.7L407.7,546.0L409.2,544.5L410.4,542.9L410.3,541.0Z"/>
<path id="p-MA" d="M453.8,532.0L456.3,531.8L457.3,529.5L459.0,528.3L460.9,527.2L462.9,526.3L464.4,525.2L465.8,523.9L467.8,523.8L470.3,523.2L472.1,523.7L473.7,524.8L475.7,523.9L477.7,522.9L480.2,523.8L481.6,526.1L481.6,528.7L482.1,531.2L483.9,532.2L484.6,534.2L486.9,534.9L488.5,536.7L490.1,537.6L492.5,536.9L493.4,539.1L495.0,540.2L497.1,540.0L498.4,541.6L497.6,544.0L499.9,545.2L498.0,545.4L496.4,544.5L494.5,546.0L492.5,545.6L490.5,545.0L488.6,545.9L486.4,544.0L484.6,545.5L482.7,546.8L480.6,545.3L478.7,546.0L477.7,547.7L475.7,548.0L476.0,550.9L473.1,551.3L471.8,552.9L470.5,555.3L467.8,555.4L465.4,555.5L462.9,555.9L460.8,555.9L458.8,556.2L457.0,557.3L454.7,557.4L453.2,559.4L451.1,559.8L449.1,560.7L448.6,562.6L448.3,564.5L447.9,562.7L446.2,561.8L445.1,559.7L443.7,557.8L442.4,555.9L440.2,554.9L441.3,553.7L442.2,552.4L443.5,550.3L445.7,549.0L446.0,547.0L446.2,545.0L447.4,543.4L448.1,541.6L450.7,541.6L453.1,540.6L454.2,539.0L454.8,537.1L454.1,534.6Z"/>
<path id="p-GR" d="M481.6,526.1L482.5,523.7L483.6,521.4L485.1,520.1L486.5,518.8L488.5,518.4L490.0,517.0L492.0,516.9L494.3,516.8L496.4,517.9L498.2,516.5L499.4,514.5L500.7,513.0L502.9,513.0L504.3,511.5L506.4,511.3L507.6,509.6L509.2,508.6L511.7,508.9L514.1,509.6L516.1,509.3L517.1,507.2L519.1,507.1L521.6,507.3L524.0,508.1L525.9,507.1L527.9,506.4L529.9,505.6L529.8,503.4L531.1,501.7L531.9,499.7L532.6,497.6L534.4,496.3L535.8,494.8L537.4,493.6L538.7,492.2L540.7,491.8L543.0,490.6L543.8,488.2L545.5,489.1L547.3,489.5L549.1,489.3L550.7,490.1L551.0,492.7L552.2,494.9L552.7,497.0L553.0,499.7L551.4,501.8L550.5,503.5L551.6,505.7L550.0,507.2L548.2,507.9L548.0,509.7L546.1,510.3L545.5,512.2L543.9,513.1L542.4,514.3L541.1,515.6L540.1,517.1L539.1,518.6L538.5,520.5L538.4,522.5L538.6,524.5L537.0,523.2L534.8,523.7L533.2,522.5L533.2,524.4L531.8,525.8L531.2,527.4L529.2,527.4L528.1,529.3L526.3,529.9L526.3,532.1L526.8,534.3L525.2,536.0L524.8,538.3L525.3,541.2L523.3,542.4L522.5,544.5L520.5,544.0L519.1,546.4L517.1,545.5L515.0,545.9L513.4,547.7L511.2,547.5L509.5,545.7L507.4,545.8L505.3,546.0L503.3,546.6L501.6,545.7L499.9,545.2L497.6,544.0L498.4,541.6L497.1,540.0L495.0,540.2L493.4,539.1L492.5,536.9L490.1,537.6L488.5,536.7L486.9,534.9L484.6,534.2L483.9,532.2L482.1,531.2L481.6,528.7Z"/>
<path id="p-J" d="M483.0,476.9L485.6,476.7L487.9,475.7L489.9,475.4L491.8,474.8L493.8,474.7L495.8,475.1L497.8,474.5L499.8,475.2L501.6,474.3L503.5,473.4L505.7,473.2L507.9,473.8L509.6,471.7L511.8,472.2L514.3,472.1L516.7,472.7L519.0,471.1L521.7,471.2L524.1,471.7L526.6,471.7L528.9,470.6L531.5,470.2L533.8,469.5L536.0,468.5L537.3,470.2L539.4,470.2L540.0,472.1L542.1,473.1L542.4,475.2L544.0,476.4L543.6,478.7L544.8,480.1L544.2,482.7L545.3,485.0L543.9,486.3L543.8,488.2L543.0,490.6L540.7,491.8L538.7,492.2L537.4,493.6L535.8,494.8L534.4,496.3L532.6,497.6L531.9,499.7L531.1,501.7L529.8,503.4L529.9,505.6L527.9,506.4L525.9,507.1L524.0,508.1L521.6,507.3L519.1,507.1L517.1,507.2L516.1,509.3L514.1,509.6L511.7,508.9L509.2,508.6L507.6,509.6L506.4,511.3L504.3,511.5L502.9,513.0L500.7,513.0L499.4,514.5L498.2,516.5L496.4,517.9L494.3,516.8L492.0,516.9L491.2,515.0L490.7,513.0L488.9,511.6L487.8,509.7L487.1,507.6L486.0,505.7L484.8,503.9L484.6,501.9L484.5,499.8L483.7,497.6L484.3,495.1L483.5,492.9L483.9,490.3L485.0,488.0L484.4,485.9L486.1,484.1L486.0,482.1L484.8,480.5L483.4,479.0Z"/>
<path id="p-AL" d="M522.5,544.5L523.3,542.4L525.3,541.2L524.8,538.3L525.2,536.0L526.8,534.3L526.3,532.1L526.3,529.9L528.1,529.3L529.2,527.4L531.2,527.4L531.8,525.8L533.2,524.4L533.2,522.5L534.8,523.7L537.0,523.2L538.6,524.5L538.4,522.5L538.5,520.5L539.1,518.6L540.1,517.1L541.1,515.6L542.4,514.3L543.9,513.1L545.5,512.2L546.1,510.3L548.0,509.7L548.2,507.9L550.0,507.2L551.6,505.7L550.5,503.5L551.4,501.8L553.0,499.7L552.7,497.0L555.1,498.3L557.8,497.9L559.3,499.2L561.3,499.4L562.2,501.1L562.5,503.0L563.3,504.8L563.8,506.5L564.1,508.5L565.7,509.7L567.3,510.8L567.5,512.8L568.7,514.1L570.4,515.5L571.6,517.6L573.7,518.5L572.4,520.7L570.6,522.5L571.1,524.6L568.4,525.4L568.7,527.4L569.1,530.1L567.7,532.4L565.8,533.5L567.0,535.9L565.7,537.3L564.5,539.5L562.8,541.2L560.9,542.0L560.9,544.7L558.8,545.2L556.9,545.0L555.9,546.7L553.9,545.6L552.9,543.7L551.7,542.1L550.0,541.2L548.1,542.0L546.0,542.2L545.1,544.0L543.1,543.7L540.2,544.5L539.1,547.1L537.4,548.5L535.2,548.6L534.1,546.7L531.4,548.0L530.2,546.2L527.4,547.6L526.3,544.7L524.5,543.3Z"/>
<path id="p-MU" d="M550.7,490.1L552.2,488.0L553.2,485.6L555.2,484.0L557.5,483.1L559.1,481.1L560.3,478.6L563.1,479.1L564.7,477.5L567.0,477.1L568.9,476.7L570.9,476.7L572.8,477.5L574.9,477.6L576.0,476.0L577.8,475.2L578.0,472.8L579.8,471.2L581.1,468.9L580.8,466.3L582.5,464.7L582.8,462.4L584.9,461.7L586.7,460.4L588.8,460.5L590.6,459.4L592.5,460.5L594.6,460.4L596.4,461.4L597.0,463.3L596.1,466.3L594.7,467.7L595.3,469.8L594.1,471.2L593.7,473.8L594.6,476.2L595.3,478.4L597.0,480.1L594.9,482.2L596.1,485.0L597.4,487.3L597.5,490.0L598.9,491.4L599.4,493.3L600.5,494.9L602.0,496.9L603.9,498.3L605.1,499.9L604.4,501.8L605.6,503.0L605.9,504.7L607.4,507.2L605.0,506.8L603.4,508.7L601.0,509.3L598.5,509.2L596.1,510.1L593.6,509.7L590.9,509.7L588.7,511.1L586.7,510.9L585.0,511.4L583.7,513.1L582.4,514.6L580.4,514.7L578.8,515.6L577.0,516.4L576.5,519.4L573.7,518.5L571.6,517.6L570.4,515.5L568.7,514.1L567.5,512.8L567.3,510.8L565.7,509.7L564.1,508.5L563.8,506.5L563.3,504.8L562.5,503.0L562.2,501.1L561.3,499.4L559.3,499.2L557.8,497.9L555.1,498.3L552.7,497.0L552.2,494.9L551.0,492.7Z"/>
<path id="p-AB" d="M535.5,435.3L538.0,435.9L540.4,434.8L542.8,435.1L545.3,435.3L546.8,437.2L549.3,437.7L552.2,438.7L553.8,437.1L556.1,437.0L558.1,436.3L559.1,433.8L560.1,435.0L561.1,436.3L562.9,435.1L565.2,436.5L567.0,435.3L569.5,434.6L571.9,433.8L573.8,432.9L576.1,433.1L577.8,431.8L578.3,431.3L580.5,432.1L582.8,432.8L584.7,432.7L586.1,434.1L587.7,434.8L589.0,436.6L589.7,438.7L588.3,440.5L587.7,442.7L586.5,444.5L587.2,446.6L588.0,448.7L589.7,450.0L591.7,450.6L593.6,451.5L595.2,452.4L597.0,452.5L598.9,454.1L598.5,456.5L598.5,459.4L598.3,461.6L597.0,463.3L596.4,461.4L594.6,460.4L592.5,460.5L590.6,459.4L588.8,460.5L586.7,460.4L584.9,461.7L582.8,462.4L582.5,464.7L580.8,466.3L581.1,468.9L579.8,471.2L578.0,472.8L577.8,475.2L576.0,476.0L574.9,477.6L572.8,477.5L570.9,476.7L568.9,476.7L567.0,477.1L564.7,477.5L563.1,479.1L560.3,478.6L559.1,481.1L557.5,483.1L555.2,484.0L553.2,485.6L552.2,488.0L550.7,490.1L549.1,489.3L547.3,489.5L545.5,489.1L543.8,488.2L543.9,486.3L545.3,485.0L544.2,482.7L544.8,480.1L543.6,478.7L544.0,476.4L542.4,475.2L542.1,473.1L540.0,472.1L539.4,470.2L537.3,470.2L536.0,468.5L535.5,466.8L536.5,465.3L538.0,463.7L537.9,461.4L537.6,459.3L536.5,457.4L534.7,455.6L533.5,453.5L533.2,451.4L532.0,449.6L532.5,447.0L533.5,444.6L533.0,442.1L534.0,439.7L535.0,437.6Z"/>
<path id="p-A" d="M598.5,459.4L601.0,459.2L603.4,459.4L606.1,459.1L608.4,460.4L611.3,459.4L612.6,457.0L615.3,457.4L617.7,456.7L620.2,456.0L622.6,455.0L625.1,454.5L627.0,453.9L629.1,454.0L631.1,453.6L633.0,454.5L634.9,455.6L636.9,456.5L637.7,458.5L639.4,459.9L638.3,461.9L636.0,462.4L634.3,463.3L632.6,464.2L631.0,465.3L629.3,465.7L627.7,466.4L626.1,467.3L624.5,468.7L623.2,470.4L621.2,471.2L620.7,473.4L618.0,473.3L617.2,475.2L614.8,476.0L613.3,478.1L610.1,478.1L611.3,481.1L609.3,482.5L609.4,485.0L608.2,486.8L607.9,489.0L606.5,491.2L606.4,493.9L605.7,496.4L603.9,498.3L602.0,496.9L600.5,494.9L599.4,493.3L598.9,491.4L597.5,490.0L597.4,487.3L596.1,485.0L594.9,482.2L597.0,480.1L595.3,478.4L594.6,476.2L593.7,473.8L594.1,471.2L595.3,469.8L594.7,467.7L596.1,466.3L597.0,463.3L598.3,461.6Z"/>
<path id="p-V" d="M589.6,407.5L592.0,406.9L594.5,407.0L597.0,407.2L599.4,408.0L600.9,408.8L601.4,410.4L603.7,411.4L605.3,413.4L606.2,415.3L608.3,415.9L609.8,416.6L611.2,417.3L614.2,416.4L615.9,416.7L617.1,417.8L618.1,416.1L620.1,415.9L622.1,416.3L623.5,417.8L624.4,420.4L622.0,422.4L622.2,424.9L621.1,426.8L621.9,429.0L620.7,430.8L621.5,432.7L620.5,435.1L622.2,436.7L623.0,438.7L624.4,440.4L624.1,442.7L624.0,445.0L625.0,446.9L626.6,448.6L628.5,449.9L628.5,452.0L629.1,454.0L627.0,453.9L625.1,454.5L622.6,455.0L620.2,456.0L617.7,456.7L615.3,457.4L612.6,457.0L611.3,459.4L608.4,460.4L606.1,459.1L603.4,459.4L601.0,459.2L598.5,459.4L598.5,456.5L598.9,454.1L597.0,452.5L595.2,452.4L593.6,451.5L591.7,450.6L589.7,450.0L588.0,448.7L587.2,446.6L586.5,444.5L587.7,442.7L588.3,440.5L589.7,438.7L589.0,436.6L587.7,434.8L586.1,434.1L584.7,432.7L582.8,432.8L580.5,432.1L578.3,431.3L579.0,429.1L578.7,426.7L578.9,424.7L581.1,423.8L581.2,421.8L582.9,419.8L584.6,417.8L586.0,416.3L586.6,414.3L588.1,412.9L588.2,411.0L589.8,409.5Z"/>
<path id="p-CS" d="M639.3,374.5L640.0,376.6L641.8,377.9L643.2,379.2L644.7,380.4L647.0,381.3L648.0,383.5L647.2,386.1L645.7,388.3L644.8,390.0L643.0,391.1L642.8,393.2L642.9,395.5L641.7,397.0L639.8,398.1L638.9,399.8L639.5,402.4L636.8,403.1L636.1,405.1L633.2,405.5L632.9,408.0L631.0,409.2L630.7,411.6L629.0,412.9L627.3,414.7L626.3,417.2L623.5,417.8L622.1,416.3L620.1,415.9L618.1,416.1L617.1,417.8L615.9,416.7L614.2,416.4L611.2,417.3L609.8,416.6L608.3,415.9L606.2,415.3L605.3,413.4L603.7,411.4L601.4,410.4L602.4,408.0L603.3,406.1L605.3,405.5L607.7,404.9L609.3,403.1L609.5,400.7L611.2,399.1L611.9,397.2L613.2,395.7L615.4,395.1L617.1,393.7L617.9,391.9L619.1,390.2L619.6,388.2L620.6,386.3L620.7,383.8L621.1,381.4L620.1,380.2L619.1,378.9L621.1,377.4L621.6,375.6L623.1,374.5L625.0,373.0L627.2,372.8L629.0,374.0L630.9,375.1L632.9,376.0L635.9,375.0L637.7,375.4Z"/>
<path id="p-TE" d="M576.3,366.1L578.4,365.5L579.7,363.6L581.0,362.0L582.7,360.7L584.5,359.5L586.7,359.2L588.6,358.2L590.6,357.8L592.5,357.2L593.8,358.7L595.7,358.7L597.4,359.2L598.6,357.9L600.4,357.7L602.3,357.2L604.3,357.2L606.4,356.2L608.3,354.8L609.0,352.9L609.3,350.8L610.9,350.1L612.2,348.9L613.4,350.5L615.2,351.3L616.8,353.1L619.1,353.3L620.9,353.8L622.3,355.1L624.0,355.8L625.4,357.2L627.1,358.1L629.0,358.7L630.4,360.1L632.4,360.2L634.6,359.6L636.8,359.2L638.8,360.2L639.6,362.0L640.8,363.6L640.5,365.6L641.1,367.6L640.3,369.6L639.5,372.0L639.3,374.5L637.7,375.4L635.9,375.0L632.9,376.0L630.9,375.1L629.0,374.0L627.2,372.8L625.0,373.0L623.1,374.5L621.6,375.6L621.1,377.4L619.1,378.9L620.1,380.2L621.1,381.4L620.7,383.8L620.6,386.3L619.6,388.2L619.1,390.2L617.9,391.9L617.1,393.7L615.4,395.1L613.2,395.7L611.9,397.2L611.2,399.1L609.5,400.7L609.3,403.1L607.7,404.9L605.3,405.5L603.3,406.1L602.4,408.0L601.4,410.4L600.9,408.8L599.4,408.0L597.0,407.2L594.5,407.0L592.0,406.9L589.6,407.5L590.8,406.5L592.3,405.8L592.5,403.1L590.6,402.3L589.1,400.9L587.3,399.6L585.8,397.9L585.1,400.3L582.7,399.6L581.3,398.1L579.2,398.1L577.4,397.6L576.4,395.9L574.8,395.2L572.7,394.1L571.3,392.2L570.4,390.2L569.4,388.3L571.2,386.7L571.8,384.3L572.8,381.4L575.7,381.1L576.7,378.4L576.8,376.4L576.7,374.4L577.7,372.5L577.6,370.3L576.7,368.2Z"/>
<path id="p-CU" d="M524.7,399.0L527.0,398.2L529.3,397.7L531.6,397.0L531.3,394.8L532.5,393.0L533.8,391.2L533.6,389.1L535.2,388.2L537.2,388.5L538.5,387.1L540.5,386.9L541.4,384.7L543.4,384.7L545.6,384.2L546.9,382.6L548.4,381.2L550.2,381.1L551.8,380.3L553.3,379.3L555.2,378.4L557.2,378.3L559.2,379.1L560.9,380.4L563.2,380.2L564.3,382.0L566.0,383.4L567.1,385.2L568.1,386.8L569.4,388.3L570.4,390.2L571.3,392.2L572.7,394.1L574.8,395.2L576.4,395.9L577.4,397.6L579.2,398.1L581.3,398.1L582.7,399.6L583.0,401.5L583.1,403.5L584.6,405.0L586.2,406.1L587.7,407.1L589.6,407.5L589.8,409.5L588.2,411.0L588.1,412.9L586.6,414.3L586.0,416.3L584.6,417.8L582.9,419.8L581.2,421.8L581.1,423.8L578.9,424.7L578.7,426.7L579.0,429.1L578.3,431.3L577.8,431.8L576.1,433.1L573.8,432.9L571.9,433.8L569.5,434.6L567.0,435.3L565.2,436.5L562.9,435.1L561.1,436.3L560.1,435.0L559.1,433.8L558.1,436.3L556.1,437.0L553.8,437.1L552.2,438.7L549.3,437.7L546.8,437.2L545.3,435.3L542.8,435.1L540.4,434.8L538.0,435.9L535.5,435.3L533.4,434.2L531.5,432.8L530.8,430.8L529.7,429.0L528.8,426.9L529.7,424.8L528.8,422.7L529.7,420.6L528.8,418.6L528.4,416.4L526.7,414.7L526.3,412.5L525.1,410.6L523.7,408.8L523.1,407.0L524.6,405.2L523.7,403.4L524.7,401.3Z"/>
<path id="p-T" d="M644.3,350.1L647.3,350.6L649.3,350.4L651.3,350.2L653.2,349.7L655.0,348.6L657.2,348.9L659.1,348.2L661.1,347.8L663.1,347.2L664.7,345.4L667.0,344.7L668.0,341.8L670.9,341.8L672.2,340.4L673.9,339.8L676.2,339.6L677.8,337.8L680.3,337.3L681.2,339.6L682.3,341.8L682.4,343.8L683.4,345.3L684.7,346.7L685.9,348.7L687.2,350.6L688.6,352.7L688.2,355.1L686.2,355.2L684.6,356.5L682.8,357.0L681.2,358.9L679.2,359.5L676.8,359.0L674.7,359.4L672.6,359.9L670.9,361.5L669.3,363.4L667.0,364.4L664.8,363.9L663.4,365.6L661.0,366.5L659.5,368.6L658.0,370.3L656.1,371.5L658.3,371.7L658.5,374.0L660.2,374.8L661.0,376.5L659.6,378.0L657.5,377.9L655.4,378.2L653.6,379.4L652.4,380.8L650.6,381.4L649.1,382.3L648.0,383.5L647.0,381.3L644.7,380.4L643.2,379.2L641.8,377.9L640.0,376.6L639.3,374.5L639.5,372.0L640.3,369.6L641.1,367.6L640.5,365.6L640.8,363.6L639.6,362.0L638.8,360.2L639.4,357.5L640.6,355.3L642.4,353.6L643.8,352.1Z"/>
<path id="p-B" d="M701.5,306.8L702.0,309.3L701.5,311.2L701.5,313.2L703.4,315.2L705.4,315.1L707.4,314.7L709.8,314.9L712.3,315.2L713.3,316.9L715.3,317.1L717.7,317.6L717.7,320.1L717.6,322.3L716.3,324.0L713.3,325.0L712.3,327.5L714.3,328.6L716.3,330.0L717.9,331.2L719.2,332.9L722.2,331.9L724.1,331.3L726.1,331.9L727.9,333.9L726.2,334.9L724.9,336.5L722.7,336.5L721.2,337.8L719.4,338.8L717.6,339.5L715.5,339.9L714.3,341.8L712.2,342.1L711.3,344.3L709.4,344.7L708.3,346.1L707.0,347.4L706.4,349.2L703.9,349.6L702.5,351.6L700.5,352.2L698.5,352.4L696.3,352.3L694.6,353.6L692.5,354.4L690.4,355.0L688.2,355.1L688.6,352.7L687.2,350.6L685.9,348.7L684.7,346.7L683.4,345.3L682.4,343.8L682.3,341.8L681.2,339.6L680.3,337.3L679.9,335.1L679.8,332.9L680.0,330.9L681.8,330.0L683.4,328.3L685.7,328.0L685.7,326.1L687.2,325.0L688.8,323.4L689.2,321.1L689.2,319.1L688.7,317.1L689.0,315.0L690.1,313.2L690.6,310.8L690.6,308.3L692.6,308.4L694.6,308.5L696.5,307.9L698.5,308.0L700.0,307.4Z"/>
<path id="p-GI" d="M700.5,303.3L703.4,303.8L705.5,303.3L707.4,302.4L709.9,302.3L712.3,302.4L714.5,302.2L715.6,304.0L717.2,304.8L720.2,305.8L722.1,305.0L724.1,304.3L725.6,303.1L727.4,302.3L729.1,301.4L731.5,300.6L734.0,299.9L736.1,298.9L737.9,300.4L740.0,300.5L740.9,302.4L741.9,305.3L744.0,306.5L746.3,306.8L744.8,309.3L742.9,308.4L740.9,309.3L740.8,311.3L739.9,313.2L741.8,314.3L742.9,316.2L741.9,318.7L743.3,321.1L741.7,323.3L741.9,326.0L740.5,328.3L737.9,329.0L735.8,329.1L734.5,330.8L733.0,331.9L731.2,332.3L729.3,332.6L727.9,333.9L726.1,331.9L724.1,331.3L722.2,331.9L719.2,332.9L717.9,331.2L716.3,330.0L714.3,328.6L712.3,327.5L713.3,325.0L716.3,324.0L717.6,322.3L717.7,320.1L717.7,317.6L715.3,317.1L713.3,316.9L712.3,315.2L709.8,314.9L707.4,314.7L705.4,315.1L703.4,315.2L701.5,313.2L701.5,311.2L702.0,309.3L701.5,306.8L700.3,305.3Z"/>
<path id="p-L" d="M654.0,290.7L653.1,288.9L652.6,287.1L653.7,285.1L655.1,283.6L657.1,284.1L659.5,283.8L661.9,283.1L663.1,286.1L665.3,285.3L666.8,287.9L669.0,287.6L670.9,288.4L673.0,288.0L674.9,289.1L676.8,289.5L678.8,289.6L679.0,292.2L681.3,293.5L682.0,295.4L682.3,297.4L681.8,299.4L683.7,301.4L685.5,300.9L686.7,299.2L688.7,299.4L690.8,298.4L692.6,299.9L694.4,302.2L697.0,300.9L699.0,301.9L700.5,303.3L700.3,305.3L701.5,306.8L700.0,307.4L698.5,308.0L696.5,307.9L694.6,308.5L692.6,308.4L690.6,308.3L690.6,310.8L690.1,313.2L689.0,315.0L688.7,317.1L689.2,319.1L689.2,321.1L688.8,323.4L687.2,325.0L685.7,326.1L685.7,328.0L683.4,328.3L681.8,330.0L680.0,330.9L679.8,332.9L679.9,335.1L680.3,337.3L677.8,337.8L676.2,339.6L673.9,339.8L672.2,340.4L670.9,341.8L668.0,341.8L667.0,344.7L664.7,345.4L663.1,347.2L661.1,347.8L659.1,348.2L657.2,348.9L655.0,348.6L653.2,349.7L651.3,350.2L649.3,350.4L647.3,350.6L644.3,350.1L643.5,348.0L642.9,345.9L644.0,344.5L644.3,342.8L644.5,340.6L645.8,338.8L645.2,336.5L643.3,334.9L644.6,332.8L646.3,330.9L647.3,329.3L648.8,328.2L650.2,327.0L651.1,325.1L651.2,323.1L653.5,321.5L654.7,319.1L655.3,316.9L656.3,314.6L656.2,312.2L656.1,309.9L657.8,307.9L656.6,305.5L657.6,303.3L657.5,301.4L656.0,299.5L657.9,297.4L657.1,295.5L656.7,293.5L655.2,292.2Z"/>
<path id="p-HU" d="M602.9,281.4L604.9,280.9L605.9,282.7L607.7,283.6L609.7,284.2L610.8,286.1L613.0,286.2L614.8,285.1L617.1,284.0L619.7,284.1L621.2,286.1L624.2,285.5L625.6,287.6L627.5,288.8L630.0,288.6L631.5,290.5L634.0,289.7L636.5,289.1L638.4,289.7L640.3,290.6L642.4,290.5L644.8,289.5L647.3,290.0L649.6,289.4L651.9,289.6L654.0,290.7L655.2,292.2L656.7,293.5L657.1,295.5L657.9,297.4L656.0,299.5L657.5,301.4L657.6,303.3L656.6,305.5L657.8,307.9L656.1,309.9L656.2,312.2L656.3,314.6L655.3,316.9L654.7,319.1L653.5,321.5L651.2,323.1L651.1,325.1L650.2,327.0L648.8,328.2L647.3,329.3L646.3,330.9L644.6,332.8L643.3,334.9L645.2,336.5L645.8,338.8L644.5,340.6L644.3,342.8L644.0,344.5L642.9,345.9L641.1,346.5L639.4,345.7L637.1,347.0L634.5,347.2L632.6,348.1L630.5,347.7L628.5,346.8L627.6,344.7L625.7,343.6L624.4,341.9L623.6,339.8L622.6,338.1L620.3,337.8L618.7,336.8L617.7,334.9L615.8,333.5L614.0,332.0L612.8,330.0L610.7,329.1L610.8,326.1L607.9,326.0L606.9,324.0L604.8,322.8L603.2,321.1L602.0,319.1L602.2,317.0L604.2,315.5L603.6,313.1L604.4,311.2L603.7,309.3L603.2,307.3L604.9,305.3L603.9,303.3L602.9,300.8L600.5,299.4L600.7,297.4L599.7,295.4L600.8,293.4L601.5,291.3L601.6,289.3L600.7,287.3L601.1,285.2L602.6,283.5Z"/>
<path id="p-Z" d="M566.4,318.8L567.9,320.0L569.4,321.3L571.2,321.8L572.3,323.5L574.3,323.7L576.6,325.0L579.2,324.7L580.8,323.7L582.7,323.3L583.5,320.8L584.3,318.3L583.5,316.6L583.0,314.7L582.0,313.0L582.2,310.9L583.0,308.7L583.3,306.4L582.7,304.0L583.1,301.6L584.1,299.6L586.1,298.1L587.4,296.6L588.3,294.8L590.0,293.7L592.0,292.7L594.1,292.0L595.6,290.0L597.9,289.8L599.6,288.8L600.7,287.3L601.6,289.3L601.5,291.3L600.8,293.4L599.7,295.4L600.7,297.4L600.5,299.4L602.9,300.8L603.9,303.3L604.9,305.3L603.2,307.3L603.7,309.3L604.4,311.2L603.6,313.1L604.2,315.5L602.2,317.0L602.0,319.1L603.2,321.1L604.8,322.8L606.9,324.0L607.9,326.0L610.8,326.1L610.7,329.1L612.8,330.0L614.0,332.0L615.8,333.5L617.7,334.9L618.7,336.8L620.3,337.8L622.6,338.1L623.6,339.8L624.4,341.9L625.7,343.6L627.6,344.7L628.5,346.8L630.5,347.7L632.6,348.1L634.5,347.2L637.1,347.0L639.4,345.7L641.1,346.5L642.9,345.9L643.5,348.0L644.3,350.1L643.8,352.1L642.4,353.6L640.6,355.3L639.4,357.5L638.8,360.2L636.8,359.2L634.6,359.6L632.4,360.2L630.4,360.1L629.0,358.7L627.1,358.1L625.4,357.2L624.0,355.8L622.3,355.1L620.9,353.8L619.1,353.3L616.8,353.1L615.2,351.3L613.4,350.5L612.2,348.9L610.9,350.1L609.3,350.8L609.0,352.9L608.3,354.8L606.4,356.2L604.3,357.2L602.3,357.2L600.4,357.7L598.6,357.9L597.4,359.2L595.7,358.7L593.8,358.7L592.5,357.2L590.6,357.8L588.6,358.2L586.7,359.2L584.5,359.5L582.7,360.7L581.0,362.0L579.7,363.6L578.4,365.5L576.3,366.1L574.5,365.3L574.0,363.1L572.0,362.5L570.8,360.7L568.4,360.3L567.1,358.6L565.3,359.3L563.5,359.9L561.6,359.3L559.7,359.6L558.2,358.1L557.7,356.1L557.9,353.8L556.4,351.9L556.3,349.7L557.7,347.9L559.5,346.4L561.2,344.8L561.9,342.8L562.3,340.8L563.2,338.9L565.0,337.9L565.0,335.4L566.6,334.3L568.1,333.0L569.0,330.1L569.2,327.8L567.9,326.3L566.2,325.1L564.4,323.3L564.9,320.8Z"/>
<path id="e-0" d="M582.7,399.6L584.9,400.1L585.8,397.9L587.2,399.7L589.1,400.9L591.3,401.2L592.5,403.1L592.3,405.8L590.7,406.2L589.6,407.5L587.9,406.7L586.3,405.8L584.6,405.0L584.3,403.1L584.0,401.2Z"/>
<path id="e-1" d="M532.4,288.3L534.3,287.9L535.9,286.8L538.0,286.8L539.7,288.1L541.8,288.3L542.8,291.2L540.7,291.6L538.8,292.7L536.4,291.7L533.9,291.2L532.7,290.0Z"/>
<path id="e-2" d="M711.6,424.1L713.3,423.4L714.5,421.9L716.0,421.0L717.2,419.0L719.8,418.5L721.2,416.7L722.6,415.0L725.1,414.8L726.4,412.8L728.7,412.5L730.6,411.3L732.4,409.8L734.1,409.3L736.2,410.1L737.6,408.5L739.9,408.2L742.3,408.1L739.7,408.1L739.7,410.7L740.6,413.3L741.4,415.0L742.8,416.3L745.8,416.7L747.9,415.4L749.5,416.7L751.4,417.6L751.4,420.2L750.0,422.3L748.8,424.5L747.1,426.0L745.8,427.9L745.0,429.6L744.9,431.4L742.8,432.4L741.0,434.0L739.1,435.5L737.6,437.4L736.3,435.6L734.1,434.8L732.7,433.3L730.7,432.7L729.0,432.4L727.2,432.2L726.4,430.8L725.9,429.2L725.1,426.2L722.5,425.3L719.9,426.6L718.9,428.2L717.8,429.7L717.0,427.7L715.6,426.2L713.0,425.3Z"/>
<path id="e-3" d="M762.6,405.5L763.4,403.8L765.6,403.6L767.8,403.8L769.8,402.6L772.1,402.9L773.8,403.4L775.5,403.8L777.7,404.5L779.0,406.4L780.7,408.2L780.7,410.7L780.0,412.6L780.3,414.6L778.3,413.8L776.4,412.8L775.9,410.5L773.2,411.0L772.1,409.4L769.8,409.6L767.8,408.5L765.5,408.5L763.4,409.4L763.5,407.3Z"/>
<path id="e-4" d="M671.2,449.9L674.2,450.3L675.9,447.8L678.2,447.1L679.4,445.2L681.4,445.1L683.3,444.3L685.1,444.7L686.7,445.6L687.6,447.8L686.2,448.9L685.0,450.3L683.4,451.8L681.6,452.9L679.8,455.5L678.1,455.7L676.4,455.1L674.6,455.4L672.9,454.7L673.4,451.6Z"/>
<path id="e-5" d="M679.4,461.6L679.5,459.6L680.7,458.1L681.6,460.7L682.8,462.8L685.9,463.3L683.3,464.0L680.7,463.3L679.4,464.6L679.0,462.0Z"/>
<path id="c-0" d="M224.01,619.86C224.30,618.16 224.34,618.45 225.64,617.56C226.94,616.67 226.52,616.88 228.35,616.88C230.18,616.88 230.19,616.46 231.74,617.56C233.28,618.66 232.89,618.43 233.50,620.54C234.11,622.65 234.01,621.96 233.77,624.60C233.52,627.25 233.50,626.91 232.68,629.35C231.87,631.78 231.95,631.07 231.06,632.73C230.16,634.40 230.60,635.10 229.70,634.90C228.81,634.70 229.09,634.33 228.08,632.05C227.06,629.78 227.33,629.96 226.32,627.31C225.30,624.67 225.38,625.48 224.69,623.25C224.00,621.01 223.73,621.57 224.01,619.86Z"/>
<path id="c-1" d="M218.46,664.97C218.22,664.44 219.15,666.04 220.49,665.51C221.83,664.99 221.47,664.63 222.93,663.21C224.39,661.79 223.82,661.59 225.37,660.77C226.91,659.96 227.10,659.89 228.08,660.50C229.05,661.11 228.86,661.18 228.62,662.81C228.38,664.43 228.24,663.97 227.26,665.92C226.29,667.87 226.47,668.49 225.37,669.31C224.27,670.12 224.83,669.24 223.61,668.63C222.39,668.02 222.85,668.37 221.30,667.28C219.76,666.18 218.70,665.50 218.46,664.97Z"/>
<path id="c-2" d="M255.44,648.72C255.44,649.98 255.51,649.73 254.84,650.82C254.17,651.91 254.37,651.72 253.21,652.35C252.05,652.98 252.31,652.92 250.97,652.92C249.63,652.92 249.90,652.98 248.74,652.35C247.57,651.72 247.77,651.91 247.10,650.82C246.43,649.73 246.50,649.98 246.50,648.72C246.50,647.46 246.43,647.71 247.10,646.62C247.77,645.53 247.57,645.71 248.74,645.08C249.90,644.45 249.63,644.52 250.97,644.52C252.31,644.52 252.05,644.45 253.21,645.08C254.37,645.71 254.17,645.53 254.84,646.62C255.51,647.71 255.44,647.46 255.44,648.72Z"/>
<path id="c-3" d="M261.27,639.23C261.47,638.14 261.66,638.49 263.57,637.88C265.48,637.27 264.79,637.85 267.63,637.20C270.48,636.55 270.21,636.85 273.05,635.71C275.90,634.57 275.08,634.79 277.12,633.41C279.15,632.03 277.79,632.29 279.83,631.11C281.86,629.93 281.37,630.38 283.89,629.48C286.41,628.59 286.52,627.96 288.22,628.13C289.93,628.29 289.86,628.64 289.58,630.02C289.29,631.40 288.98,631.11 287.28,632.73C285.57,634.36 285.51,633.61 283.89,635.44C282.26,637.27 282.87,636.59 281.86,638.83C280.84,641.06 281.44,640.25 280.50,642.89C279.57,645.53 280.16,644.99 278.74,647.63C277.32,650.27 277.87,649.87 275.76,651.70C273.65,653.53 273.65,653.12 271.70,653.73C269.75,654.34 270.68,654.95 269.26,653.73C267.84,652.51 268.26,652.31 266.96,649.67C265.66,647.02 266.14,647.36 264.92,644.92C263.70,642.49 263.99,643.24 262.89,641.54C261.79,639.83 261.06,640.33 261.27,639.23Z"/>
<path id="c-4" d="M299.20,655.49C299.28,653.26 299.13,653.65 300.14,651.70C301.16,649.75 301.36,650.41 302.58,648.99C303.80,647.57 302.50,647.77 304.21,646.96C305.92,646.14 306.04,646.28 308.27,646.28C310.51,646.28 310.12,647.04 311.66,646.96C313.20,646.87 312.53,646.01 313.42,646.01C314.31,646.01 314.23,645.66 314.64,646.96C315.05,648.26 314.41,648.11 314.78,650.34C315.14,652.58 315.70,651.97 315.86,654.41C316.02,656.85 316.05,656.24 315.32,658.47C314.59,660.71 314.92,660.11 313.42,661.86C311.92,663.60 312.05,663.16 310.30,664.30C308.56,665.43 309.34,665.65 307.60,665.65C305.85,665.65 306.23,665.43 304.48,664.30C302.73,663.16 303.15,663.40 301.77,661.86C300.39,660.31 300.65,661.06 299.87,659.15C299.10,657.24 299.12,657.73 299.20,655.49Z"/>
<path id="c-5" d="M345.25,650.07C345.66,649.62 346.24,650.32 348.23,649.67C350.23,649.02 349.98,649.25 351.89,647.90C353.80,646.56 353.14,647.11 354.60,645.20C356.06,643.29 355.55,644.06 356.77,641.54C357.99,639.02 357.49,639.84 358.67,636.80C359.84,633.75 359.64,634.43 360.70,631.38C361.75,628.33 361.33,628.99 362.19,626.64C363.04,624.28 362.45,624.94 363.54,623.52C364.64,622.10 364.22,622.55 365.85,621.90C367.47,621.24 367.86,620.54 368.96,621.35C370.06,622.17 369.42,622.00 369.50,624.60C369.58,627.21 369.52,626.77 369.23,630.02C368.95,633.27 369.04,632.39 368.55,635.44C368.07,638.49 368.62,637.83 367.61,640.18C366.59,642.54 366.92,641.79 365.17,643.30C363.42,644.80 364.02,644.30 361.78,645.20C359.55,646.09 359.95,645.34 357.72,646.28C355.48,647.21 356.08,646.89 354.33,648.31C352.58,649.73 353.31,649.92 351.89,651.02C350.47,652.12 351.09,651.93 349.59,651.97C348.09,652.01 348.18,651.72 346.88,651.16C345.58,650.59 344.85,650.52 345.25,650.07Z"/>
<path id="c-6" d="M366.93,616.21C366.85,614.74 366.98,614.63 367.88,612.68C368.77,610.73 368.28,611.33 369.91,609.70C371.53,608.08 371.14,608.57 373.30,607.26C375.45,605.96 375.14,606.87 377.09,605.37C379.04,603.86 378.50,603.72 379.80,602.25C381.10,600.79 380.29,600.69 381.42,600.49C382.56,600.29 382.94,600.23 383.59,601.58C384.24,602.92 384.04,602.93 383.59,604.96C383.14,606.99 382.95,606.44 382.10,608.35C381.25,610.26 382.17,609.91 380.75,611.33C379.32,612.75 379.39,612.16 377.36,613.09C375.33,614.02 375.92,613.23 373.97,614.44C372.02,615.66 372.60,616.22 370.86,617.15C369.11,618.09 369.33,617.84 368.15,617.56C366.97,617.28 367.01,617.67 366.93,616.21Z"/>
</defs>
<rect width="1855" height="2599" fill="#FFFFFF"/>
<rect x="170.5" y="194.0" width="1314.1" height="1069.2" fill="none" stroke="#5B6B75" stroke-width="1.3"/>
<rect x="170.5" y="1508.3" width="1309.5" height="1084.2" fill="none" stroke="#5B6B75" stroke-width="1.3"/>
<rect x="78.5" y="6.0" width="1404.0" height="89.5" fill="#E49EDD" stroke="#5A4A6E" stroke-width="1.2"/>
<rect x="78.7" y="1316.6" width="1401.1" height="90.2" fill="#92D050" stroke="#4E6B45" stroke-width="1.2"/>
<rect x="170.3" y="114.5" width="642.4" height="79.5" fill="#27588A" stroke="#1F4468" stroke-width="1"/>
<rect x="843.1" y="114.5" width="641.6" height="79.5" fill="#80281F" stroke="#4A1A15" stroke-width="1"/>
<rect x="170.4" y="1428.3" width="642.3" height="80.1" fill="#27588A" stroke="#1F4468" stroke-width="1"/>
<rect x="841.0" y="1428.3" width="641.0" height="80.1" fill="#80281F" stroke="#4A1A15" stroke-width="1"/>
<rect x="78.6" y="210.0" width="71.0" height="491.2" fill="#F2CEEF" stroke="#6E6880" stroke-width="1.2"/>
<rect x="78.6" y="752.3" width="71.0" height="490.1" fill="#F2CEEF" stroke="#6E6880" stroke-width="1.2"/>
<rect x="78.6" y="1521.2" width="71.0" height="490.2" fill="#D0FF80" stroke="#5E7A55" stroke-width="1.2"/>
<rect x="78.6" y="2071.4" width="71.0" height="491.1" fill="#D0FF80" stroke="#5E7A55" stroke-width="1.2"/>
<line x1="173.9" y1="723.7" x2="1482" y2="723.7" stroke="#222" stroke-width="1.7" stroke-dasharray="7.3 5.17"/>
<line x1="171.5" y1="2040.3" x2="1479" y2="2040.3" stroke="#222" stroke-width="1.5" stroke-dasharray="7.3 5.17"/>
<text x="219.97" y="65.6" font-family="'Liberation Sans', Arial, Helvetica, sans-serif" font-size="44.5" font-weight="bold" fill="#000" stroke="#000" stroke-width="1.6" stroke-linejoin="round" textLength="1115.56" lengthAdjust="spacingAndGlyphs">DISTRIBUTION OF SEQUENCE TYPES FROM CC121</text>
<text x="231.76" y="1376.2" font-family="'Liberation Sans', Arial, Helvetica, sans-serif" font-size="44.5" font-weight="bold" fill="#000" stroke="#000" stroke-width="1.6" stroke-linejoin="round" textLength="1093.96" lengthAdjust="spacingAndGlyphs">DISTRIBUTION OF SEQUENCE TYPES FROM CC96</text>
<text x="407.00" y="164.5" font-family="'Liberation Sans', Arial, Helvetica, sans-serif" font-size="29.6" font-weight="bold" fill="#FFF" stroke="#FFF" stroke-width="1.1" stroke-linejoin="round" textLength="166.93" lengthAdjust="spacingAndGlyphs">PRESENCE</text>
<text x="1066.17" y="164.7" font-family="'Liberation Sans', Arial, Helvetica, sans-serif" font-size="29.6" font-weight="bold" fill="#FFF" stroke="#FFF" stroke-width="1.1" stroke-linejoin="round" textLength="193.17" lengthAdjust="spacingAndGlyphs">FREQUENCY</text>
<text x="407.00" y="1478.4" font-family="'Liberation Sans', Arial, Helvetica, sans-serif" font-size="29.6" font-weight="bold" fill="#FFF" stroke="#FFF" stroke-width="1.1" stroke-linejoin="round" textLength="166.93" lengthAdjust="spacingAndGlyphs">PRESENCE</text>
<text x="1063.87" y="1478.4" font-family="'Liberation Sans', Arial, Helvetica, sans-serif" font-size="29.6" font-weight="bold" fill="#FFF" stroke="#FFF" stroke-width="1.1" stroke-linejoin="round" textLength="193.17" lengthAdjust="spacingAndGlyphs">FREQUENCY</text>
<text transform="translate(124.4,579.63) rotate(-90)" font-family="'Liberation Sans', Arial, Helvetica, sans-serif" font-size="32" font-weight="normal" fill="#000" stroke="#000" stroke-width="0.4" stroke-linejoin="round" textLength="249.07" lengthAdjust="spacingAndGlyphs">ST3764 (n = 245)</text>
<text transform="translate(125,1109.01) rotate(-90)" font-family="'Liberation Sans', Arial, Helvetica, sans-serif" font-size="32" font-weight="normal" fill="#000" stroke="#000" stroke-width="0.4" stroke-linejoin="round" textLength="226.67" lengthAdjust="spacingAndGlyphs">ST121 (n = 166)</text>
<text transform="translate(125,1881.52) rotate(-90)" font-family="'Liberation Sans', Arial, Helvetica, sans-serif" font-size="32" font-weight="normal" fill="#000" stroke="#000" stroke-width="0.4" stroke-linejoin="round" textLength="229.21" lengthAdjust="spacingAndGlyphs">ST2855 (n = 85)</text>
<text transform="translate(125,2411.79) rotate(-90)" font-family="'Liberation Sans', Arial, Helvetica, sans-serif" font-size="32" font-weight="normal" fill="#000" stroke="#000" stroke-width="0.4" stroke-linejoin="round" textLength="189.13" lengthAdjust="spacingAndGlyphs">ST96 (n = 27)</text>
<text transform="translate(44.8,508.48) rotate(-90)" font-family="'Liberation Sans', Arial, Helvetica, sans-serif" font-size="54" fill="#000" stroke="#000" stroke-width="0.7" stroke-linejoin="round" style="font-kerning:none">A.1</text>
<text transform="translate(44.0,1009.18) rotate(-90)" font-family="'Liberation Sans', Arial, Helvetica, sans-serif" font-size="54" fill="#000" stroke="#000" stroke-width="0.7" stroke-linejoin="round" style="font-kerning:none">A.2</text>
<text transform="translate(45.7,1802.11) rotate(-90)" font-family="'Liberation Sans', Arial, Helvetica, sans-serif" font-size="54" fill="#000" stroke="#000" stroke-width="0.7" stroke-linejoin="round" style="font-kerning:none">B.1</text>
<text transform="translate(45.0,2356.11) rotate(-90)" font-family="'Liberation Sans', Arial, Helvetica, sans-serif" font-size="54" fill="#000" stroke="#000" stroke-width="0.7" stroke-linejoin="round" style="font-kerning:none">B.2</text>
<rect x="191.1" y="573.4" width="208.6" height="111.5" fill="#FFFFFF" stroke="#5E717A" stroke-width="1.3"/>
<g id="A1P" transform="translate(0,0)" stroke="#000" stroke-width="1.55" stroke-linejoin="miter" stroke-miterlimit="2.5">
<use href="#p-C" fill="#2B619B"/>
<use href="#p-LU" fill="#2B619B"/>
<use href="#p-PO" fill="#2B619B"/>
<use href="#p-OU" fill="#2B619B"/>
<use href="#p-O" fill="#D3D3D3"/>
<use href="#p-LE" fill="#2B619B"/>
<use href="#p-S" fill="#2B619B"/>
<use href="#p-BI" fill="#2B619B"/>
<use href="#p-SS" fill="#2B619B"/>
<use href="#p-VI" fill="#FFFFFF"/>
<use href="#p-NA" fill="#FFFFFF"/>
<use href="#p-LO" fill="#2B619B"/>
<use href="#p-BU" fill="#FFFFFF"/>
<use href="#p-P" fill="#2B619B"/>
<use href="#p-VA" fill="#2B619B"/>
<use href="#p-ZA" fill="#2B619B"/>
<use href="#p-SA" fill="#2B619B"/>
<use href="#p-AV" fill="#2B619B"/>
<use href="#p-SG" fill="#2B619B"/>
<use href="#p-SO" fill="#FFFFFF"/>
<use href="#p-M" fill="#D3D3D3"/>
<use href="#p-GU" fill="#FFFFFF"/>
<use href="#p-TO" fill="#D3D3D3"/>
<use href="#p-CC" fill="#2B619B"/>
<use href="#p-BA" fill="#FFFFFF"/>
<use href="#p-CR" fill="#D3D3D3"/>
<use href="#p-CO" fill="#D3D3D3"/>
<use href="#p-SE" fill="#D3D3D3"/>
<use href="#p-H" fill="#D3D3D3"/>
<use href="#p-CA" fill="#D3D3D3"/>
<use href="#p-MA" fill="#FFFFFF"/>
<use href="#p-GR" fill="#FFFFFF"/>
<use href="#p-J" fill="#FFFFFF"/>
<use href="#p-AL" fill="#D3D3D3"/>
<use href="#p-MU" fill="#2B619B"/>
<use href="#p-AB" fill="#2B619B"/>
<use href="#p-A" fill="#2B619B"/>
<use href="#p-V" fill="#2B619B"/>
<use href="#p-CS" fill="#2B619B"/>
<use href="#p-TE" fill="#2B619B"/>
<use href="#p-CU" fill="#FFFFFF"/>
<use href="#p-T" fill="#2B619B"/>
<use href="#p-B" fill="#FFFFFF"/>
<use href="#p-GI" fill="#FFFFFF"/>
<use href="#p-L" fill="#FFFFFF"/>
<use href="#p-HU" fill="#2B619B"/>
<use href="#p-Z" fill="#FFFFFF"/>
<use href="#e-0" fill="#2B619B"/>
<use href="#e-1" fill="#FFFFFF"/>
<use href="#e-2" fill="#D3D3D3"/>
<use href="#e-3" fill="#D3D3D3"/>
<use href="#e-4" fill="#D3D3D3"/>
<use href="#e-5" fill="#D3D3D3"/>
<circle cx="733.3" cy="442.6" r="1.15" fill="#000" stroke="none"/>
<circle cx="654.8" cy="411.4" r="0.75" fill="#000" stroke="none"/>
<circle cx="525.8" cy="579.9" r="0.6" fill="#000" stroke="none"/>
<path d="M442.7,580.6L448.1,581.3L445.8,583.1Z" fill="#000" stroke-width="0.6"/>
<ellipse cx="603.6" cy="503.7" rx="1.2" ry="2.3" fill="#FFF" stroke-width="0.9"/>
<path d="M314.8,287.4L317.3,288.8" fill="none" stroke-width="1.1"/>
</g>
<g transform="translate(0.00,0.00) scale(1.0)" stroke="#000" stroke-width="1.45" stroke-linejoin="round">
<use href="#c-0" fill="#FFFFFF"/>
<use href="#c-1" fill="#FFFFFF"/>
<use href="#c-2" fill="#FFFFFF"/>
<use href="#c-3" fill="#FFFFFF"/>
<use href="#c-4" fill="#FFFFFF"/>
<use href="#c-5" fill="#FFFFFF"/>
<use href="#c-6" fill="#FFFFFF"/>
<circle cx="380.1" cy="593.7" r="1.0" fill="#000" stroke="none"/>
<circle cx="386.2" cy="599.3" r="0.4" fill="#000" stroke="none"/>
<path d="M379.7,597.5L381.0,600.5" stroke-width="1.6" fill="none"/>
</g>
<rect x="825.9" y="573.4" width="221.7" height="110.7" fill="#FFFFFF" stroke="#5E717A" stroke-width="1.3"/>
<g id="A1F" transform="translate(663,-6.3)" stroke="#000" stroke-width="1.15" stroke-linejoin="miter" stroke-miterlimit="2.5">
<use href="#p-C" fill="#8B2B1F"/>
<use href="#p-LU" fill="#D29D90"/>
<use href="#p-PO" fill="#D8A89B"/>
<use href="#p-OU" fill="#B46A5A"/>
<use href="#p-O" fill="#CECFD1"/>
<use href="#p-LE" fill="#994132"/>
<use href="#p-S" fill="#F6E8E2"/>
<use href="#p-BI" fill="#EDD2CA"/>
<use href="#p-SS" fill="#8B2B1F"/>
<use href="#p-VI" fill="#FFFEFA"/>
<use href="#p-NA" fill="#FFFEFA"/>
<use href="#p-LO" fill="#D29D90"/>
<use href="#p-BU" fill="#FFFEFA"/>
<use href="#p-P" fill="#A75546"/>
<use href="#p-VA" fill="#B46A5A"/>
<use href="#p-ZA" fill="#8B2B1F"/>
<use href="#p-SA" fill="#B46A5A"/>
<use href="#p-AV" fill="#8B2B1F"/>
<use href="#p-SG" fill="#A75546"/>
<use href="#p-SO" fill="#FFFEFA"/>
<use href="#p-M" fill="#CECFD1"/>
<use href="#p-GU" fill="#FFFEFA"/>
<use href="#p-TO" fill="#CECFD1"/>
<use href="#p-CC" fill="#8B2B1F"/>
<use href="#p-BA" fill="#FFFEFA"/>
<use href="#p-CR" fill="#CECFD1"/>
<use href="#p-CO" fill="#CECFD1"/>
<use href="#p-SE" fill="#CECFD1"/>
<use href="#p-H" fill="#CECFD1"/>
<use href="#p-CA" fill="#CECFD1"/>
<use href="#p-MA" fill="#FFFEFA"/>
<use href="#p-GR" fill="#FFFEFA"/>
<use href="#p-J" fill="#FFFEFA"/>
<use href="#p-AL" fill="#CECFD1"/>
<use href="#p-MU" fill="#F1DDD6"/>
<use href="#p-AB" fill="#E8C8BE"/>
<use href="#p-A" fill="#8B2B1F"/>
<use href="#p-V" fill="#994132"/>
<use href="#p-CS" fill="#D8A89B"/>
<use href="#p-TE" fill="#E8C8BE"/>
<use href="#p-CU" fill="#FFFEFA"/>
<use href="#p-T" fill="#F6E8E2"/>
<use href="#p-B" fill="#FFFEFA"/>
<use href="#p-GI" fill="#FFFEFA"/>
<use href="#p-L" fill="#FFFEFA"/>
<use href="#p-HU" fill="#F6E8E2"/>
<use href="#p-Z" fill="#FFFEFA"/>
<use href="#e-0" fill="#994132"/>
<use href="#e-1" fill="#FFFEFA"/>
<use href="#e-2" fill="#CECFD1"/>
<use href="#e-3" fill="#CECFD1"/>
<use href="#e-4" fill="#CECFD1"/>
<use href="#e-5" fill="#CECFD1"/>
<circle cx="733.3" cy="442.6" r="1.15" fill="#000" stroke="none"/>
<circle cx="654.8" cy="411.4" r="0.75" fill="#000" stroke="none"/>
<circle cx="525.8" cy="579.9" r="0.6" fill="#000" stroke="none"/>
<path d="M442.7,580.6L448.1,581.3L445.8,583.1Z" fill="#000" stroke-width="0.6"/>
<ellipse cx="603.6" cy="503.7" rx="1.2" ry="2.3" fill="#FFF" stroke-width="0.9"/>
<path d="M314.8,287.4L317.3,288.8" fill="none" stroke-width="1.1"/>
</g>
<g transform="translate(645.20,1.29) scale(0.99)" stroke="#000" stroke-width="1.45" stroke-linejoin="round">
<use href="#c-0" fill="#FFFEFA"/>
<use href="#c-1" fill="#FFFEFA"/>
<use href="#c-2" fill="#FFFEFA"/>
<use href="#c-3" fill="#FFFEFA"/>
<use href="#c-4" fill="#FFFEFA"/>
<use href="#c-5" fill="#FFFEFA"/>
<use href="#c-6" fill="#FFFEFA"/>
<circle cx="380.1" cy="593.7" r="1.0" fill="#000" stroke="none"/>
<circle cx="386.2" cy="599.3" r="0.4" fill="#000" stroke="none"/>
<path d="M379.7,597.5L381.0,600.5" stroke-width="1.6" fill="none"/>
</g>
<rect x="188.4" y="1121.1" width="203.9" height="111.5" fill="#FFFFFF" stroke="#5E717A" stroke-width="1.3"/>
<g id="A2P" transform="translate(-8,558.3)" stroke="#000" stroke-width="1.55" stroke-linejoin="miter" stroke-miterlimit="2.5">
<use href="#p-C" fill="#FFFFFF"/>
<use href="#p-LU" fill="#2B619B"/>
<use href="#p-PO" fill="#2B619B"/>
<use href="#p-OU" fill="#2B619B"/>
<use href="#p-O" fill="#D3D3D3"/>
<use href="#p-LE" fill="#2B619B"/>
<use href="#p-S" fill="#2B619B"/>
<use href="#p-BI" fill="#2B619B"/>
<use href="#p-SS" fill="#FFFFFF"/>
<use href="#p-VI" fill="#FFFFFF"/>
<use href="#p-NA" fill="#2B619B"/>
<use href="#p-LO" fill="#2B619B"/>
<use href="#p-BU" fill="#2B619B"/>
<use href="#p-P" fill="#2B619B"/>
<use href="#p-VA" fill="#2B619B"/>
<use href="#p-ZA" fill="#FFFFFF"/>
<use href="#p-SA" fill="#2B619B"/>
<use href="#p-AV" fill="#FFFFFF"/>
<use href="#p-SG" fill="#2B619B"/>
<use href="#p-SO" fill="#FFFFFF"/>
<use href="#p-M" fill="#D3D3D3"/>
<use href="#p-GU" fill="#2B619B"/>
<use href="#p-TO" fill="#D3D3D3"/>
<use href="#p-CC" fill="#FFFFFF"/>
<use href="#p-BA" fill="#FFFFFF"/>
<use href="#p-CR" fill="#D3D3D3"/>
<use href="#p-CO" fill="#D3D3D3"/>
<use href="#p-SE" fill="#D3D3D3"/>
<use href="#p-H" fill="#D3D3D3"/>
<use href="#p-CA" fill="#D3D3D3"/>
<use href="#p-MA" fill="#2B619B"/>
<use href="#p-GR" fill="#FFFFFF"/>
<use href="#p-J" fill="#2B619B"/>
<use href="#p-AL" fill="#D3D3D3"/>
<use href="#p-MU" fill="#2B619B"/>
<use href="#p-AB" fill="#2B619B"/>
<use href="#p-A" fill="#FFFFFF"/>
<use href="#p-V" fill="#2B619B"/>
<use href="#p-CS" fill="#2B619B"/>
<use href="#p-TE" fill="#2B619B"/>
<use href="#p-CU" fill="#2B619B"/>
<use href="#p-T" fill="#2B619B"/>
<use href="#p-B" fill="#2B619B"/>
<use href="#p-GI" fill="#2B619B"/>
<use href="#p-L" fill="#2B619B"/>
<use href="#p-HU" fill="#2B619B"/>
<use href="#p-Z" fill="#2B619B"/>
<use href="#e-0" fill="#2B619B"/>
<use href="#e-1" fill="#2B619B"/>
<use href="#e-2" fill="#D3D3D3"/>
<use href="#e-3" fill="#D3D3D3"/>
<use href="#e-4" fill="#D3D3D3"/>
<use href="#e-5" fill="#D3D3D3"/>
<circle cx="733.3" cy="442.6" r="1.15" fill="#000" stroke="none"/>
<circle cx="654.8" cy="411.4" r="0.75" fill="#000" stroke="none"/>
<circle cx="525.8" cy="579.9" r="0.6" fill="#000" stroke="none"/>
<path d="M442.7,580.6L448.1,581.3L445.8,583.1Z" fill="#000" stroke-width="0.6"/>
<ellipse cx="603.6" cy="503.7" rx="1.2" ry="2.3" fill="#FFF" stroke-width="0.9"/>
<path d="M314.8,287.4L317.3,288.8" fill="none" stroke-width="1.1"/>
</g>
<g transform="translate(9.22,574.36) scale(0.95)" stroke="#000" stroke-width="1.45" stroke-linejoin="round">
<use href="#c-0" fill="#2B619B"/>
<use href="#c-1" fill="#2B619B"/>
<use href="#c-2" fill="#2B619B"/>
<use href="#c-3" fill="#2B619B"/>
<use href="#c-4" fill="#FFFFFF"/>
<use href="#c-5" fill="#FFFFFF"/>
<use href="#c-6" fill="#FFFFFF"/>
<circle cx="380.1" cy="593.7" r="1.0" fill="#000" stroke="none"/>
<circle cx="386.2" cy="599.3" r="0.4" fill="#000" stroke="none"/>
<path d="M379.7,597.5L381.0,600.5" stroke-width="1.6" fill="none"/>
</g>
<rect x="849.2" y="1121.1" width="204.6" height="110.4" fill="#FFFFFF" stroke="#5E717A" stroke-width="1.3"/>
<g id="A2F" transform="translate(661.9,558.2)" stroke="#000" stroke-width="1.55" stroke-linejoin="miter" stroke-miterlimit="2.5">
<use href="#p-C" fill="#FFFEFA"/>
<use href="#p-LU" fill="#CC9385"/>
<use href="#p-PO" fill="#CC9385"/>
<use href="#p-OU" fill="#E8C8BE"/>
<use href="#p-O" fill="#CECFD1"/>
<use href="#p-LE" fill="#F6E8E2"/>
<use href="#p-S" fill="#994132"/>
<use href="#p-BI" fill="#B46A5A"/>
<use href="#p-SS" fill="#FFFEFA"/>
<use href="#p-VI" fill="#FFFEFA"/>
<use href="#p-NA" fill="#8B2B1F"/>
<use href="#p-LO" fill="#D0998B"/>
<use href="#p-BU" fill="#8B2B1F"/>
<use href="#p-P" fill="#F6E8E2"/>
<use href="#p-VA" fill="#E8C8BE"/>
<use href="#p-ZA" fill="#FFFEFA"/>
<use href="#p-SA" fill="#E8C8BE"/>
<use href="#p-AV" fill="#FFFEFA"/>
<use href="#p-SG" fill="#F6E8E2"/>
<use href="#p-SO" fill="#FFFEFA"/>
<use href="#p-M" fill="#CECFD1"/>
<use href="#p-GU" fill="#8B2B1F"/>
<use href="#p-TO" fill="#CECFD1"/>
<use href="#p-CC" fill="#FFFEFA"/>
<use href="#p-BA" fill="#FFFEFA"/>
<use href="#p-CR" fill="#CECFD1"/>
<use href="#p-CO" fill="#CECFD1"/>
<use href="#p-SE" fill="#CECFD1"/>
<use href="#p-H" fill="#CECFD1"/>
<use href="#p-CA" fill="#CECFD1"/>
<use href="#p-MA" fill="#8B2B1F"/>
<use href="#p-GR" fill="#FFFEFA"/>
<use href="#p-J" fill="#8B2B1F"/>
<use href="#p-AL" fill="#CECFD1"/>
<use href="#p-MU" fill="#A04B3C"/>
<use href="#p-AB" fill="#D29D90"/>
<use href="#p-A" fill="#FFFEFA"/>
<use href="#p-V" fill="#F6E8E2"/>
<use href="#p-CS" fill="#F9EFE9"/>
<use href="#p-TE" fill="#C17E6F"/>
<use href="#p-CU" fill="#8B2B1F"/>
<use href="#p-T" fill="#994132"/>
<use href="#p-B" fill="#8B2B1F"/>
<use href="#p-GI" fill="#8B2B1F"/>
<use href="#p-L" fill="#994132"/>
<use href="#p-HU" fill="#994132"/>
<use href="#p-Z" fill="#8B2B1F"/>
<use href="#e-0" fill="#F6E8E2"/>
<use href="#e-1" fill="#8B2B1F"/>
<use href="#e-2" fill="#CECFD1"/>
<use href="#e-3" fill="#CECFD1"/>
<use href="#e-4" fill="#CECFD1"/>
<use href="#e-5" fill="#CECFD1"/>
<circle cx="733.3" cy="442.6" r="1.15" fill="#000" stroke="none"/>
<circle cx="654.8" cy="411.4" r="0.75" fill="#000" stroke="none"/>
<circle cx="525.8" cy="579.9" r="0.6" fill="#000" stroke="none"/>
<path d="M442.7,580.6L448.1,581.3L445.8,583.1Z" fill="#000" stroke-width="0.6"/>
<ellipse cx="603.6" cy="503.7" rx="1.2" ry="2.3" fill="#FFF" stroke-width="0.9"/>
<path d="M314.8,287.4L317.3,288.8" fill="none" stroke-width="1.1"/>
</g>
<g transform="translate(673.68,569.68) scale(0.955)" stroke="#000" stroke-width="1.45" stroke-linejoin="round">
<use href="#c-0" fill="#923628"/>
<use href="#c-1" fill="#923628"/>
<use href="#c-2" fill="#923628"/>
<use href="#c-3" fill="#923628"/>
<use href="#c-4" fill="#FFFEFA"/>
<use href="#c-5" fill="#FFFEFA"/>
<use href="#c-6" fill="#FFFEFA"/>
<circle cx="380.1" cy="593.7" r="1.0" fill="#000" stroke="none"/>
<circle cx="386.2" cy="599.3" r="0.4" fill="#000" stroke="none"/>
<path d="M379.7,597.5L381.0,600.5" stroke-width="1.6" fill="none"/>
</g>
<rect x="194.6" y="1893.8" width="210.2" height="114.7" fill="#FFFFFF" stroke="#5E717A" stroke-width="1.3"/>
<g id="B1P" transform="translate(1.95,1306.4) scale(1.0125)" stroke="#000" stroke-width="1.2" stroke-linejoin="miter" stroke-miterlimit="2.5">
<use href="#p-C" fill="#2B619B"/>
<use href="#p-LU" fill="#2B619B"/>
<use href="#p-PO" fill="#2B619B"/>
<use href="#p-OU" fill="#2B619B"/>
<use href="#p-O" fill="#D3D3D3"/>
<use href="#p-LE" fill="#2B619B"/>
<use href="#p-S" fill="#FFFFFF"/>
<use href="#p-BI" fill="#2B619B"/>
<use href="#p-SS" fill="#2B619B"/>
<use href="#p-VI" fill="#FFFFFF"/>
<use href="#p-NA" fill="#FFFFFF"/>
<use href="#p-LO" fill="#2B619B"/>
<use href="#p-BU" fill="#2B619B"/>
<use href="#p-P" fill="#FFFFFF"/>
<use href="#p-VA" fill="#2B619B"/>
<use href="#p-ZA" fill="#2B619B"/>
<use href="#p-SA" fill="#2B619B"/>
<use href="#p-AV" fill="#FFFFFF"/>
<use href="#p-SG" fill="#FFFFFF"/>
<use href="#p-SO" fill="#2B619B"/>
<use href="#p-M" fill="#D3D3D3"/>
<use href="#p-GU" fill="#FFFFFF"/>
<use href="#p-TO" fill="#D3D3D3"/>
<use href="#p-CC" fill="#FFFFFF"/>
<use href="#p-BA" fill="#2B619B"/>
<use href="#p-CR" fill="#D3D3D3"/>
<use href="#p-CO" fill="#D3D3D3"/>
<use href="#p-SE" fill="#D3D3D3"/>
<use href="#p-H" fill="#D3D3D3"/>
<use href="#p-CA" fill="#D3D3D3"/>
<use href="#p-MA" fill="#FFFFFF"/>
<use href="#p-GR" fill="#FFFFFF"/>
<use href="#p-J" fill="#FFFFFF"/>
<use href="#p-AL" fill="#D3D3D3"/>
<use href="#p-MU" fill="#FFFFFF"/>
<use href="#p-AB" fill="#2B619B"/>
<use href="#p-A" fill="#FFFFFF"/>
<use href="#p-V" fill="#2B619B"/>
<use href="#p-CS" fill="#FFFFFF"/>
<use href="#p-TE" fill="#2B619B"/>
<use href="#p-CU" fill="#2B619B"/>
<use href="#p-T" fill="#FFFFFF"/>
<use href="#p-B" fill="#2B619B"/>
<use href="#p-GI" fill="#2B619B"/>
<use href="#p-L" fill="#FFFFFF"/>
<use href="#p-HU" fill="#2B619B"/>
<use href="#p-Z" fill="#FFFFFF"/>
<use href="#e-0" fill="#2B619B"/>
<use href="#e-1" fill="#2B619B"/>
<use href="#e-2" fill="#D3D3D3"/>
<use href="#e-3" fill="#D3D3D3"/>
<use href="#e-4" fill="#D3D3D3"/>
<use href="#e-5" fill="#D3D3D3"/>
<circle cx="733.3" cy="442.6" r="1.15" fill="#000" stroke="none"/>
<circle cx="654.8" cy="411.4" r="0.75" fill="#000" stroke="none"/>
<circle cx="525.8" cy="579.9" r="0.6" fill="#000" stroke="none"/>
<path d="M442.7,580.6L448.1,581.3L445.8,583.1Z" fill="#000" stroke-width="0.6"/>
<ellipse cx="603.6" cy="503.7" rx="1.2" ry="2.3" fill="#FFF" stroke-width="0.9"/>
<path d="M314.8,287.4L317.3,288.8" fill="none" stroke-width="1.1"/>
</g>
<g transform="translate(-4.05,1313.32) scale(1.006)" stroke="#000" stroke-width="1.45" stroke-linejoin="round">
<use href="#c-0" fill="#FFFFFF"/>
<use href="#c-1" fill="#FFFFFF"/>
<use href="#c-2" fill="#FFFFFF"/>
<use href="#c-3" fill="#FFFFFF"/>
<use href="#c-4" fill="#FFFFFF"/>
<use href="#c-5" fill="#FFFFFF"/>
<use href="#c-6" fill="#FFFFFF"/>
<circle cx="380.1" cy="593.7" r="1.0" fill="#000" stroke="none"/>
<circle cx="386.2" cy="599.3" r="0.4" fill="#000" stroke="none"/>
<path d="M379.7,597.5L381.0,600.5" stroke-width="1.6" fill="none"/>
</g>
<rect x="855.6" y="1893.8" width="209.6" height="106.3" fill="#FFFFFF" stroke="#5E717A" stroke-width="1.3"/>
<g id="B1F" transform="translate(653.3,1305.2) scale(1.011)" stroke="#000" stroke-width="1.35" stroke-linejoin="miter" stroke-miterlimit="2.5">
<use href="#p-C" fill="#8B2B1F"/>
<use href="#p-LU" fill="#8B2B1F"/>
<use href="#p-PO" fill="#D8A89B"/>
<use href="#p-OU" fill="#8B2B1F"/>
<use href="#p-O" fill="#CECFD1"/>
<use href="#p-LE" fill="#D8A89B"/>
<use href="#p-S" fill="#FFFEFA"/>
<use href="#p-BI" fill="#C17E6F"/>
<use href="#p-SS" fill="#C17E6F"/>
<use href="#p-VI" fill="#FFFEFA"/>
<use href="#p-NA" fill="#FFFEFA"/>
<use href="#p-LO" fill="#EDD2CA"/>
<use href="#p-BU" fill="#8B2B1F"/>
<use href="#p-P" fill="#FFFEFA"/>
<use href="#p-VA" fill="#8B2B1F"/>
<use href="#p-ZA" fill="#8B2B1F"/>
<use href="#p-SA" fill="#D8A89B"/>
<use href="#p-AV" fill="#FFFEFA"/>
<use href="#p-SG" fill="#FFFEFA"/>
<use href="#p-SO" fill="#8B2B1F"/>
<use href="#p-M" fill="#CECFD1"/>
<use href="#p-GU" fill="#FFFEFA"/>
<use href="#p-TO" fill="#CECFD1"/>
<use href="#p-CC" fill="#FFFEFA"/>
<use href="#p-BA" fill="#8B2B1F"/>
<use href="#p-CR" fill="#CECFD1"/>
<use href="#p-CO" fill="#CECFD1"/>
<use href="#p-SE" fill="#CECFD1"/>
<use href="#p-H" fill="#CECFD1"/>
<use href="#p-CA" fill="#CECFD1"/>
<use href="#p-MA" fill="#FFFEFA"/>
<use href="#p-GR" fill="#FFFEFA"/>
<use href="#p-J" fill="#FFFEFA"/>
<use href="#p-AL" fill="#CECFD1"/>
<use href="#p-MU" fill="#FFFEFA"/>
<use href="#p-AB" fill="#8B2B1F"/>
<use href="#p-A" fill="#FFFEFA"/>
<use href="#p-V" fill="#EDD2CA"/>
<use href="#p-CS" fill="#FFFEFA"/>
<use href="#p-TE" fill="#8B2B1F"/>
<use href="#p-CU" fill="#8B2B1F"/>
<use href="#p-T" fill="#FFFEFA"/>
<use href="#p-B" fill="#D29D90"/>
<use href="#p-GI" fill="#AE6050"/>
<use href="#p-L" fill="#FFFEFA"/>
<use href="#p-HU" fill="#8B2B1F"/>
<use href="#p-Z" fill="#FFFEFA"/>
<use href="#e-0" fill="#EDD2CA"/>
<use href="#e-1" fill="#8B2B1F"/>
<use href="#e-2" fill="#CECFD1"/>
<use href="#e-3" fill="#CECFD1"/>
<use href="#e-4" fill="#CECFD1"/>
<use href="#e-5" fill="#CECFD1"/>
<circle cx="733.3" cy="442.6" r="1.15" fill="#000" stroke="none"/>
<circle cx="654.8" cy="411.4" r="0.75" fill="#000" stroke="none"/>
<circle cx="525.8" cy="579.9" r="0.6" fill="#000" stroke="none"/>
<path d="M442.7,580.6L448.1,581.3L445.8,583.1Z" fill="#000" stroke-width="0.6"/>
<ellipse cx="603.6" cy="503.7" rx="1.2" ry="2.3" fill="#FFF" stroke-width="0.9"/>
<path d="M314.8,287.4L317.3,288.8" fill="none" stroke-width="1.1"/>
</g>
<g transform="translate(662.05,1309.42) scale(1.006)" stroke="#000" stroke-width="1.45" stroke-linejoin="round">
<use href="#c-0" fill="#FFFEFA"/>
<use href="#c-1" fill="#FFFEFA"/>
<use href="#c-2" fill="#FFFEFA"/>
<use href="#c-3" fill="#FFFEFA"/>
<use href="#c-4" fill="#FFFEFA"/>
<use href="#c-5" fill="#FFFEFA"/>
<use href="#c-6" fill="#FFFEFA"/>
<circle cx="380.1" cy="593.7" r="1.0" fill="#000" stroke="none"/>
<circle cx="386.2" cy="599.3" r="0.4" fill="#000" stroke="none"/>
<path d="M379.7,597.5L381.0,600.5" stroke-width="1.6" fill="none"/>
</g>
<rect x="194.6" y="2434.9" width="210.2" height="114.7" fill="#FFFFFF" stroke="#5E717A" stroke-width="1.3"/>
<g id="B2P" transform="translate(4.15,1869.3) scale(1.0125)" stroke="#000" stroke-width="1.2" stroke-linejoin="miter" stroke-miterlimit="2.5">
<use href="#p-C" fill="#FFFFFF"/>
<use href="#p-LU" fill="#FFFFFF"/>
<use href="#p-PO" fill="#FFFFFF"/>
<use href="#p-OU" fill="#FFFFFF"/>
<use href="#p-O" fill="#D3D3D3"/>
<use href="#p-LE" fill="#2B619B"/>
<use href="#p-S" fill="#2B619B"/>
<use href="#p-BI" fill="#2B619B"/>
<use href="#p-SS" fill="#FFFFFF"/>
<use href="#p-VI" fill="#FFFFFF"/>
<use href="#p-NA" fill="#2B619B"/>
<use href="#p-LO" fill="#2B619B"/>
<use href="#p-BU" fill="#FFFFFF"/>
<use href="#p-P" fill="#FFFFFF"/>
<use href="#p-VA" fill="#FFFFFF"/>
<use href="#p-ZA" fill="#FFFFFF"/>
<use href="#p-SA" fill="#FFFFFF"/>
<use href="#p-AV" fill="#FFFFFF"/>
<use href="#p-SG" fill="#FFFFFF"/>
<use href="#p-SO" fill="#FFFFFF"/>
<use href="#p-M" fill="#D3D3D3"/>
<use href="#p-GU" fill="#FFFFFF"/>
<use href="#p-TO" fill="#D3D3D3"/>
<use href="#p-CC" fill="#FFFFFF"/>
<use href="#p-BA" fill="#FFFFFF"/>
<use href="#p-CR" fill="#D3D3D3"/>
<use href="#p-CO" fill="#D3D3D3"/>
<use href="#p-SE" fill="#D3D3D3"/>
<use href="#p-H" fill="#D3D3D3"/>
<use href="#p-CA" fill="#D3D3D3"/>
<use href="#p-MA" fill="#FFFFFF"/>
<use href="#p-GR" fill="#FFFFFF"/>
<use href="#p-J" fill="#FFFFFF"/>
<use href="#p-AL" fill="#D3D3D3"/>
<use href="#p-MU" fill="#FFFFFF"/>
<use href="#p-AB" fill="#FFFFFF"/>
<use href="#p-A" fill="#FFFFFF"/>
<use href="#p-V" fill="#2B619B"/>
<use href="#p-CS" fill="#2B619B"/>
<use href="#p-TE" fill="#FFFFFF"/>
<use href="#p-CU" fill="#FFFFFF"/>
<use href="#p-T" fill="#FFFFFF"/>
<use href="#p-B" fill="#FFFFFF"/>
<use href="#p-GI" fill="#FFFFFF"/>
<use href="#p-L" fill="#FFFFFF"/>
<use href="#p-HU" fill="#FFFFFF"/>
<use href="#p-Z" fill="#2B619B"/>
<use href="#e-0" fill="#2B619B"/>
<use href="#e-1" fill="#FFFFFF"/>
<use href="#e-2" fill="#D3D3D3"/>
<use href="#e-3" fill="#D3D3D3"/>
<use href="#e-4" fill="#D3D3D3"/>
<use href="#e-5" fill="#D3D3D3"/>
<circle cx="733.3" cy="442.6" r="1.15" fill="#000" stroke="none"/>
<circle cx="654.8" cy="411.4" r="0.75" fill="#000" stroke="none"/>
<circle cx="525.8" cy="579.9" r="0.6" fill="#000" stroke="none"/>
<path d="M442.7,580.6L448.1,581.3L445.8,583.1Z" fill="#000" stroke-width="0.6"/>
<ellipse cx="603.6" cy="503.7" rx="1.2" ry="2.3" fill="#FFF" stroke-width="0.9"/>
<path d="M314.8,287.4L317.3,288.8" fill="none" stroke-width="1.1"/>
</g>
<g transform="translate(1.15,1849.72) scale(1.006)" stroke="#000" stroke-width="1.45" stroke-linejoin="round">
<use href="#c-0" fill="#FFFFFF"/>
<use href="#c-1" fill="#FFFFFF"/>
<use href="#c-2" fill="#FFFFFF"/>
<use href="#c-3" fill="#FFFFFF"/>
<use href="#c-4" fill="#FFFFFF"/>
<use href="#c-5" fill="#FFFFFF"/>
<use href="#c-6" fill="#FFFFFF"/>
<circle cx="380.1" cy="593.7" r="1.0" fill="#000" stroke="none"/>
<circle cx="386.2" cy="599.3" r="0.4" fill="#000" stroke="none"/>
<path d="M379.7,597.5L381.0,600.5" stroke-width="1.6" fill="none"/>
</g>
<rect x="832.5" y="2435.6" width="226.0" height="113.9" fill="#FFFFFF" stroke="#5E717A" stroke-width="1.3"/>
<g id="B2F" transform="translate(655,1867) scale(1.0125)" stroke="#000" stroke-width="1.4" stroke-linejoin="miter" stroke-miterlimit="2.5">
<use href="#p-C" fill="#FFFEFA"/>
<use href="#p-LU" fill="#FFFEFA"/>
<use href="#p-PO" fill="#FFFEFA"/>
<use href="#p-OU" fill="#FFFEFA"/>
<use href="#p-O" fill="#CECFD1"/>
<use href="#p-LE" fill="#C17E6F"/>
<use href="#p-S" fill="#8B2B1F"/>
<use href="#p-BI" fill="#E2BDB2"/>
<use href="#p-SS" fill="#FFFEFA"/>
<use href="#p-VI" fill="#FFFEFA"/>
<use href="#p-NA" fill="#8B2B1F"/>
<use href="#p-LO" fill="#A75546"/>
<use href="#p-BU" fill="#FFFEFA"/>
<use href="#p-P" fill="#FFFEFA"/>
<use href="#p-VA" fill="#FFFEFA"/>
<use href="#p-ZA" fill="#FFFEFA"/>
<use href="#p-SA" fill="#FFFEFA"/>
<use href="#p-AV" fill="#FFFEFA"/>
<use href="#p-SG" fill="#FFFEFA"/>
<use href="#p-SO" fill="#FFFEFA"/>
<use href="#p-M" fill="#CECFD1"/>
<use href="#p-GU" fill="#FFFEFA"/>
<use href="#p-TO" fill="#CECFD1"/>
<use href="#p-CC" fill="#FFFEFA"/>
<use href="#p-BA" fill="#FFFEFA"/>
<use href="#p-CR" fill="#CECFD1"/>
<use href="#p-CO" fill="#CECFD1"/>
<use href="#p-SE" fill="#CECFD1"/>
<use href="#p-H" fill="#CECFD1"/>
<use href="#p-CA" fill="#CECFD1"/>
<use href="#p-MA" fill="#FFFEFA"/>
<use href="#p-GR" fill="#FFFEFA"/>
<use href="#p-J" fill="#FFFEFA"/>
<use href="#p-AL" fill="#CECFD1"/>
<use href="#p-MU" fill="#FFFEFA"/>
<use href="#p-AB" fill="#FFFEFA"/>
<use href="#p-A" fill="#FFFEFA"/>
<use href="#p-V" fill="#AE6050"/>
<use href="#p-CS" fill="#AE6050"/>
<use href="#p-TE" fill="#FFFEFA"/>
<use href="#p-CU" fill="#FFFEFA"/>
<use href="#p-T" fill="#FFFEFA"/>
<use href="#p-B" fill="#FFFEFA"/>
<use href="#p-GI" fill="#FFFEFA"/>
<use href="#p-L" fill="#FFFEFA"/>
<use href="#p-HU" fill="#FFFEFA"/>
<use href="#p-Z" fill="#8B2B1F"/>
<use href="#e-0" fill="#AE6050"/>
<use href="#e-1" fill="#FFFEFA"/>
<use href="#e-2" fill="#CECFD1"/>
<use href="#e-3" fill="#CECFD1"/>
<use href="#e-4" fill="#CECFD1"/>
<use href="#e-5" fill="#CECFD1"/>
<circle cx="733.3" cy="442.6" r="1.15" fill="#000" stroke="none"/>
<circle cx="654.8" cy="411.4" r="0.75" fill="#000" stroke="none"/>
<circle cx="525.8" cy="579.9" r="0.6" fill="#000" stroke="none"/>
<path d="M442.7,580.6L448.1,581.3L445.8,583.1Z" fill="#000" stroke-width="0.6"/>
<ellipse cx="603.6" cy="503.7" rx="1.2" ry="2.3" fill="#FFF" stroke-width="0.9"/>
<path d="M314.8,287.4L317.3,288.8" fill="none" stroke-width="1.1"/>
</g>
<g transform="translate(656.15,1850.42) scale(1.006)" stroke="#000" stroke-width="1.45" stroke-linejoin="round">
<use href="#c-0" fill="#FFFEFA"/>
<use href="#c-1" fill="#FFFEFA"/>
<use href="#c-2" fill="#FFFEFA"/>
<use href="#c-3" fill="#FFFEFA"/>
<use href="#c-4" fill="#FFFEFA"/>
<use href="#c-5" fill="#FFFEFA"/>
<use href="#c-6" fill="#FFFEFA"/>
<circle cx="380.1" cy="593.7" r="1.0" fill="#000" stroke="none"/>
<circle cx="386.2" cy="599.3" r="0.4" fill="#000" stroke="none"/>
<path d="M379.7,597.5L381.0,600.5" stroke-width="1.6" fill="none"/>
</g>
<rect x="1541.4" y="809.4" width="305.2" height="344.0" fill="#FFFFFF" stroke="#C4C6C8" stroke-width="1.2"/>
<text x="1590.68" y="866.4" font-family="'Liberation Sans', Arial, Helvetica, sans-serif" font-size="43.5" font-weight="normal" fill="#7F7F7F" stroke="#7F7F7F" stroke-width="0.4" stroke-linejoin="round" textLength="200.64" lengthAdjust="spacingAndGlyphs">Presence</text>
<line x1="1567" y1="889.2" x2="1819" y2="889.2" stroke="#7F7F7F" stroke-width="1.7"/>
<rect x="1576.9" y="949.5" width="50.8" height="51" fill="#D3D3D3" stroke="#161616" stroke-width="1.9"/>
<text x="1641.98" y="983.8" font-family="'Liberation Sans', Arial, Helvetica, sans-serif" font-size="29.6" font-weight="normal" fill="#000" stroke="#000" stroke-width="0.35" stroke-linejoin="round" textLength="176.25" lengthAdjust="spacingAndGlyphs">Not sampled</text>
<rect x="1576.9" y="1003.0" width="50.8" height="51" fill="#FFFFFF" stroke="#161616" stroke-width="1.9"/>
<text x="1644.50" y="1039.6" font-family="'Liberation Sans', Arial, Helvetica, sans-serif" font-size="29.6" font-weight="normal" fill="#000" stroke="#000" stroke-width="0.35" stroke-linejoin="round" textLength="95.58" lengthAdjust="spacingAndGlyphs">Absent</text>
<rect x="1576.9" y="1056.5" width="50.8" height="51" fill="#2B619B" stroke="#161616" stroke-width="1.9"/>
<text x="1641.99" y="1095.4" font-family="'Liberation Sans', Arial, Helvetica, sans-serif" font-size="29.6" font-weight="normal" fill="#000" stroke="#000" stroke-width="0.35" stroke-linejoin="round" textLength="108.12" lengthAdjust="spacingAndGlyphs">Present</text>
<rect x="1543.6" y="1237.0" width="305.0" height="824.6" fill="#FFFFFF" stroke="#C4C6C8" stroke-width="1.2"/>
<text x="1574.28" y="1302.8" font-family="'Liberation Sans', Arial, Helvetica, sans-serif" font-size="43.5" font-weight="normal" fill="#7F7F7F" stroke="#7F7F7F" stroke-width="0.4" stroke-linejoin="round" textLength="224.63" lengthAdjust="spacingAndGlyphs">Frequency</text>
<line x1="1563" y1="1328" x2="1827" y2="1328" stroke="#7F7F7F" stroke-width="1.7"/>
<text x="1570.89" y="1406.8" font-family="'Liberation Sans', Arial, Helvetica, sans-serif" font-size="37.5" font-weight="normal" fill="#000" stroke="#000" stroke-width="0.4" stroke-linejoin="round" textLength="33.18" lengthAdjust="spacingAndGlyphs">%</text>
<rect x="1571.9" y="1431.5" width="47.8" height="47.8" fill="#FFFEFA" stroke="#161616" stroke-width="1.9"/>
<text x="1640.86" y="1465.1" font-family="'Liberation Sans', Arial, Helvetica, sans-serif" font-size="29.6" font-weight="normal" fill="#000" stroke="#000" stroke-width="0.35" stroke-linejoin="round" textLength="18.23" lengthAdjust="spacingAndGlyphs">0</text>
<rect x="1571.9" y="1481.5" width="47.8" height="47.8" fill="#F6E8E2" stroke="#161616" stroke-width="1.9"/>
<text x="1641.87" y="1515.4" font-family="'Liberation Sans', Arial, Helvetica, sans-serif" font-size="29.6" font-weight="normal" fill="#000" stroke="#000" stroke-width="0.35" stroke-linejoin="round" textLength="34.18" lengthAdjust="spacingAndGlyphs">10</text>
<rect x="1571.9" y="1531.5" width="47.8" height="47.8" fill="#EDD2CA" stroke="#161616" stroke-width="1.9"/>
<text x="1641.10" y="1565.7" font-family="'Liberation Sans', Arial, Helvetica, sans-serif" font-size="29.6" font-weight="normal" fill="#000" stroke="#000" stroke-width="0.35" stroke-linejoin="round" textLength="34.97" lengthAdjust="spacingAndGlyphs">20</text>
<rect x="1571.9" y="1581.5" width="47.8" height="47.8" fill="#E2BDB2" stroke="#161616" stroke-width="1.9"/>
<text x="1641.51" y="1616.0" font-family="'Liberation Sans', Arial, Helvetica, sans-serif" font-size="29.6" font-weight="normal" fill="#000" stroke="#000" stroke-width="0.35" stroke-linejoin="round" textLength="34.55" lengthAdjust="spacingAndGlyphs">30</text>
<rect x="1571.9" y="1631.5" width="47.8" height="47.8" fill="#D8A89B" stroke="#161616" stroke-width="1.9"/>
<text x="1641.99" y="1666.3" font-family="'Liberation Sans', Arial, Helvetica, sans-serif" font-size="29.6" font-weight="normal" fill="#000" stroke="#000" stroke-width="0.35" stroke-linejoin="round" textLength="34.06" lengthAdjust="spacingAndGlyphs">40</text>
<rect x="1571.9" y="1681.5" width="47.8" height="47.8" fill="#CC9385" stroke="#161616" stroke-width="1.9"/>
<text x="1641.43" y="1716.6" font-family="'Liberation Sans', Arial, Helvetica, sans-serif" font-size="29.6" font-weight="normal" fill="#000" stroke="#000" stroke-width="0.35" stroke-linejoin="round" textLength="34.64" lengthAdjust="spacingAndGlyphs">50</text>
<rect x="1571.9" y="1731.5" width="47.8" height="47.8" fill="#C17E6F" stroke="#161616" stroke-width="1.9"/>
<text x="1641.10" y="1766.9" font-family="'Liberation Sans', Arial, Helvetica, sans-serif" font-size="29.6" font-weight="normal" fill="#000" stroke="#000" stroke-width="0.35" stroke-linejoin="round" textLength="34.97" lengthAdjust="spacingAndGlyphs">60</text>
<rect x="1571.9" y="1781.5" width="47.8" height="47.8" fill="#B46A5A" stroke="#161616" stroke-width="1.9"/>
<text x="1641.10" y="1817.2" font-family="'Liberation Sans', Arial, Helvetica, sans-serif" font-size="29.6" font-weight="normal" fill="#000" stroke="#000" stroke-width="0.35" stroke-linejoin="round" textLength="34.97" lengthAdjust="spacingAndGlyphs">70</text>
<rect x="1571.9" y="1831.5" width="47.8" height="47.8" fill="#A75546" stroke="#161616" stroke-width="1.9"/>
<text x="1641.35" y="1867.5" font-family="'Liberation Sans', Arial, Helvetica, sans-serif" font-size="29.6" font-weight="normal" fill="#000" stroke="#000" stroke-width="0.35" stroke-linejoin="round" textLength="34.72" lengthAdjust="spacingAndGlyphs">80</text>
<rect x="1571.9" y="1881.5" width="47.8" height="47.8" fill="#994132" stroke="#161616" stroke-width="1.9"/>
<text x="1641.19" y="1917.8" font-family="'Liberation Sans', Arial, Helvetica, sans-serif" font-size="29.6" font-weight="normal" fill="#000" stroke="#000" stroke-width="0.35" stroke-linejoin="round" textLength="34.89" lengthAdjust="spacingAndGlyphs">90</text>
<rect x="1571.9" y="1931.5" width="47.8" height="47.8" fill="#8B2B1F" stroke="#161616" stroke-width="1.9"/>
<text x="1641.86" y="1968.1" font-family="'Liberation Sans', Arial, Helvetica, sans-serif" font-size="29.6" font-weight="normal" fill="#000" stroke="#000" stroke-width="0.35" stroke-linejoin="round" textLength="51.56" lengthAdjust="spacingAndGlyphs">100</text>
<rect x="1571.9" y="1981.5" width="47.8" height="47.8" fill="#BEBEBE" stroke="#161616" stroke-width="1.9"/>
<text x="1645.07" y="2018.4" font-family="'Liberation Sans', Arial, Helvetica, sans-serif" font-size="29.6" font-weight="normal" fill="#000" stroke="#000" stroke-width="0.35" stroke-linejoin="round" textLength="177.17" lengthAdjust="spacingAndGlyphs">Not sampled</text>
</svg>
</body></html>
